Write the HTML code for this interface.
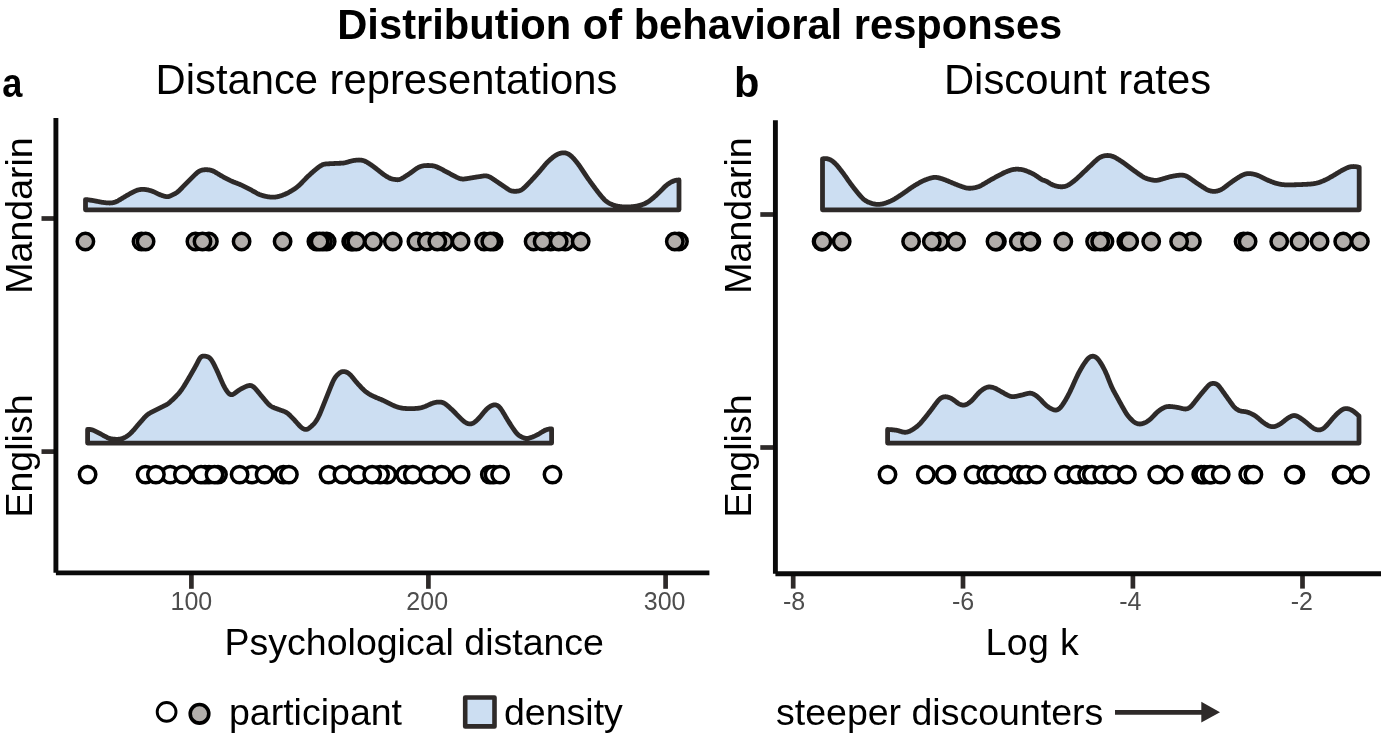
<!DOCTYPE html>
<html><head><meta charset="utf-8"><style>
html,body{margin:0;padding:0;background:#fff;width:1381px;height:737px;overflow:hidden}
svg{display:block;will-change:transform}
text{font-family:"Liberation Sans",sans-serif}
</style></head><body>
<svg width="1381" height="737" viewBox="0 0 1381 737">
<rect width="1381" height="737" fill="#fff"/>
<text x="699.8" y="38.8" font-family="Liberation Sans, sans-serif" font-size="41.7" font-weight="bold" text-anchor="middle" fill="#000">Distribution of behavioral responses</text>
<text transform="translate(2.2,97.4) scale(0.87,0.98)" font-family="Liberation Sans, sans-serif" font-size="41.6" font-weight="bold" fill="#000">a</text>
<text x="734.1" y="97.3" font-family="Liberation Sans, sans-serif" font-size="41.6" font-weight="bold" fill="#000">b</text>
<text x="386.5" y="94" font-family="Liberation Sans, sans-serif" font-size="41.75" text-anchor="middle" fill="#000">Distance representations</text>
<text x="1077.5" y="94" font-family="Liberation Sans, sans-serif" font-size="41.8" text-anchor="middle" fill="#000">Discount rates</text>
<!-- left panel axes -->
<line x1="41.5" y1="218.5" x2="55" y2="218.5" stroke="#2e2a29" stroke-width="4.7"/>
<line x1="41.5" y1="451.6" x2="55" y2="451.6" stroke="#2e2a29" stroke-width="4.7"/>
<line x1="191.4" y1="574" x2="191.4" y2="588.8" stroke="#2e2a29" stroke-width="4.7"/>
<line x1="428.4" y1="574" x2="428.4" y2="588.8" stroke="#2e2a29" stroke-width="4.7"/>
<line x1="665.6" y1="574" x2="665.6" y2="588.8" stroke="#2e2a29" stroke-width="4.7"/>
<text x="191.4" y="609.6" font-family="Liberation Sans, sans-serif" font-size="25" text-anchor="middle" fill="#4d4d4d">100</text>
<text x="427.2" y="609.6" font-family="Liberation Sans, sans-serif" font-size="25" text-anchor="middle" fill="#4d4d4d">200</text>
<text x="664.6" y="609.6" font-family="Liberation Sans, sans-serif" font-size="25" text-anchor="middle" fill="#4d4d4d">300</text>
<text x="414.3" y="655.2" font-family="Liberation Sans, sans-serif" font-size="37.5" text-anchor="middle" fill="#000">Psychological distance</text>
<text transform="translate(32,215.5) rotate(-90)" font-family="Liberation Sans, sans-serif" font-size="37.5" text-anchor="middle" fill="#000">Mandarin</text>
<text transform="translate(32,456) rotate(-90)" font-family="Liberation Sans, sans-serif" font-size="37.5" text-anchor="middle" fill="#000">English</text>
<!-- right panel axes -->
<line x1="760.3" y1="214.5" x2="774.5" y2="214.5" stroke="#2e2a29" stroke-width="4.7"/>
<line x1="760.3" y1="447.5" x2="774.5" y2="447.5" stroke="#2e2a29" stroke-width="4.7"/>
<line x1="793.2" y1="575.5" x2="793.2" y2="588.6" stroke="#2e2a29" stroke-width="4.7"/>
<line x1="963" y1="575.5" x2="963" y2="588.6" stroke="#2e2a29" stroke-width="4.7"/>
<line x1="1132.9" y1="575.5" x2="1132.9" y2="588.6" stroke="#2e2a29" stroke-width="4.7"/>
<line x1="1302.5" y1="575.5" x2="1302.5" y2="588.6" stroke="#2e2a29" stroke-width="4.7"/>
<text x="794" y="609.7" font-family="Liberation Sans, sans-serif" font-size="25" text-anchor="middle" fill="#4d4d4d">-8</text>
<text x="963" y="609.7" font-family="Liberation Sans, sans-serif" font-size="25" text-anchor="middle" fill="#4d4d4d">-6</text>
<text x="1130.4" y="609.7" font-family="Liberation Sans, sans-serif" font-size="25" text-anchor="middle" fill="#4d4d4d">-4</text>
<text x="1301.8" y="609.7" font-family="Liberation Sans, sans-serif" font-size="25" text-anchor="middle" fill="#4d4d4d">-2</text>
<text x="1032.3" y="655.2" font-family="Liberation Sans, sans-serif" font-size="37.5" letter-spacing="0.35" text-anchor="middle" fill="#000">Log k</text>
<text transform="translate(751,215.5) rotate(-90)" font-family="Liberation Sans, sans-serif" font-size="37.5" text-anchor="middle" fill="#000">Mandarin</text>
<text transform="translate(751,456) rotate(-90)" font-family="Liberation Sans, sans-serif" font-size="37.5" text-anchor="middle" fill="#000">English</text>
<!-- axes -->
<line x1="55.9" y1="118" x2="55.9" y2="572.85" stroke="#0a0a0a" stroke-width="4.9"/>
<line x1="55.9" y1="572.85" x2="709.4" y2="572.85" stroke="#0a0a0a" stroke-width="4.9"/>
<line x1="775.4" y1="120.2" x2="775.4" y2="573.8" stroke="#0a0a0a" stroke-width="4.9"/>
<line x1="775.4" y1="573.8" x2="1381" y2="573.8" stroke="#0a0a0a" stroke-width="4.9"/>
<!-- ridges -->
<path d="M85.50,209.80 L85.50,199.55 L86.00,199.58 L86.50,199.63 L87.00,199.69 L87.50,199.75 L88.00,199.82 L88.50,199.89 L89.00,199.96 L89.50,200.03 L90.00,200.10 L90.50,200.18 L91.00,200.25 L91.50,200.33 L92.00,200.41 L92.50,200.49 L93.00,200.57 L93.50,200.66 L94.00,200.74 L94.50,200.84 L95.00,200.93 L95.50,201.02 L96.00,201.12 L96.50,201.22 L97.00,201.32 L97.50,201.42 L98.00,201.52 L98.50,201.62 L99.00,201.72 L99.50,201.81 L100.00,201.91 L100.50,202.00 L101.00,202.09 L101.50,202.18 L102.00,202.26 L102.50,202.34 L103.00,202.42 L103.50,202.49 L104.00,202.55 L104.50,202.61 L105.00,202.67 L105.50,202.72 L106.00,202.77 L106.50,202.81 L107.00,202.85 L107.50,202.89 L108.00,202.92 L108.50,202.95 L109.00,202.97 L109.50,202.98 L110.00,202.98 L110.50,202.97 L111.00,202.94 L111.50,202.90 L112.00,202.84 L112.50,202.77 L113.00,202.67 L113.50,202.56 L114.00,202.43 L114.50,202.29 L115.00,202.12 L115.50,201.94 L116.00,201.74 L116.50,201.52 L117.00,201.29 L117.50,201.03 L118.00,200.77 L118.50,200.49 L119.00,200.20 L119.50,199.91 L120.00,199.62 L120.50,199.32 L121.00,199.01 L121.50,198.71 L122.00,198.40 L122.50,198.09 L123.00,197.78 L123.50,197.48 L124.00,197.17 L124.50,196.87 L125.00,196.57 L125.50,196.27 L126.00,195.98 L126.50,195.69 L127.00,195.40 L127.50,195.12 L128.00,194.83 L128.50,194.55 L129.00,194.27 L129.50,193.99 L130.00,193.71 L130.50,193.43 L131.00,193.16 L131.50,192.89 L132.00,192.62 L132.50,192.35 L133.00,192.09 L133.50,191.83 L134.00,191.57 L134.50,191.32 L135.00,191.08 L135.50,190.85 L136.00,190.64 L136.50,190.45 L137.00,190.28 L137.50,190.12 L138.00,189.98 L138.50,189.85 L139.00,189.75 L139.50,189.66 L140.00,189.58 L140.50,189.51 L141.00,189.47 L141.50,189.43 L142.00,189.41 L142.50,189.39 L143.00,189.39 L143.50,189.40 L144.00,189.43 L144.50,189.46 L145.00,189.50 L145.50,189.55 L146.00,189.61 L146.50,189.69 L147.00,189.77 L147.50,189.86 L148.00,189.96 L148.50,190.07 L149.00,190.20 L149.50,190.33 L150.00,190.46 L150.50,190.61 L151.00,190.77 L151.50,190.94 L152.00,191.11 L152.50,191.30 L153.00,191.49 L153.50,191.70 L154.00,191.91 L154.50,192.14 L155.00,192.37 L155.50,192.60 L156.00,192.84 L156.50,193.08 L157.00,193.32 L157.50,193.56 L158.00,193.80 L158.50,194.04 L159.00,194.27 L159.50,194.49 L160.00,194.70 L160.50,194.90 L161.00,195.10 L161.50,195.29 L162.00,195.47 L162.50,195.65 L163.00,195.81 L163.50,195.97 L164.00,196.11 L164.50,196.24 L165.00,196.36 L165.50,196.46 L166.00,196.54 L166.50,196.60 L167.00,196.64 L167.50,196.65 L168.00,196.62 L168.50,196.55 L169.00,196.43 L169.50,196.27 L170.00,196.07 L170.50,195.86 L171.00,195.63 L171.50,195.40 L172.00,195.17 L172.50,194.94 L173.00,194.70 L173.50,194.46 L174.00,194.21 L174.50,193.95 L175.00,193.68 L175.50,193.38 L176.00,193.07 L176.50,192.74 L177.00,192.38 L177.50,191.99 L178.00,191.57 L178.50,191.14 L179.00,190.67 L179.50,190.20 L180.00,189.71 L180.50,189.21 L181.00,188.71 L181.50,188.21 L182.00,187.70 L182.50,187.19 L183.00,186.68 L183.50,186.17 L184.00,185.66 L184.50,185.15 L185.00,184.64 L185.50,184.13 L186.00,183.62 L186.50,183.11 L187.00,182.61 L187.50,182.10 L188.00,181.60 L188.50,181.10 L189.00,180.60 L189.50,180.10 L190.00,179.60 L190.50,179.10 L191.00,178.60 L191.50,178.11 L192.00,177.61 L192.50,177.12 L193.00,176.62 L193.50,176.13 L194.00,175.64 L194.50,175.15 L195.00,174.66 L195.50,174.18 L196.00,173.70 L196.50,173.24 L197.00,172.80 L197.50,172.39 L198.00,172.01 L198.50,171.67 L199.00,171.35 L199.50,171.08 L200.00,170.83 L200.50,170.62 L201.00,170.43 L201.50,170.27 L202.00,170.13 L202.50,170.02 L203.00,169.93 L203.50,169.86 L204.00,169.80 L204.50,169.76 L205.00,169.73 L205.50,169.72 L206.00,169.72 L206.50,169.72 L207.00,169.74 L207.50,169.76 L208.00,169.80 L208.50,169.85 L209.00,169.91 L209.50,169.98 L210.00,170.07 L210.50,170.18 L211.00,170.31 L211.50,170.45 L212.00,170.61 L212.50,170.80 L213.00,171.01 L213.50,171.23 L214.00,171.48 L214.50,171.74 L215.00,172.02 L215.50,172.31 L216.00,172.60 L216.50,172.90 L217.00,173.20 L217.50,173.51 L218.00,173.81 L218.50,174.12 L219.00,174.42 L219.50,174.73 L220.00,175.03 L220.50,175.33 L221.00,175.62 L221.50,175.91 L222.00,176.20 L222.50,176.47 L223.00,176.75 L223.50,177.02 L224.00,177.28 L224.50,177.55 L225.00,177.82 L225.50,178.08 L226.00,178.34 L226.50,178.61 L227.00,178.87 L227.50,179.13 L228.00,179.38 L228.50,179.64 L229.00,179.89 L229.50,180.14 L230.00,180.38 L230.50,180.63 L231.00,180.86 L231.50,181.10 L232.00,181.32 L232.50,181.54 L233.00,181.75 L233.50,181.95 L234.00,182.15 L234.50,182.35 L235.00,182.54 L235.50,182.72 L236.00,182.91 L236.50,183.09 L237.00,183.28 L237.50,183.47 L238.00,183.66 L238.50,183.86 L239.00,184.06 L239.50,184.27 L240.00,184.49 L240.50,184.71 L241.00,184.94 L241.50,185.17 L242.00,185.41 L242.50,185.65 L243.00,185.89 L243.50,186.14 L244.00,186.38 L244.50,186.63 L245.00,186.88 L245.50,187.13 L246.00,187.38 L246.50,187.63 L247.00,187.88 L247.50,188.13 L248.00,188.39 L248.50,188.64 L249.00,188.90 L249.50,189.16 L250.00,189.42 L250.50,189.68 L251.00,189.95 L251.50,190.22 L252.00,190.50 L252.50,190.77 L253.00,191.05 L253.50,191.33 L254.00,191.62 L254.50,191.90 L255.00,192.17 L255.50,192.45 L256.00,192.73 L256.50,193.00 L257.00,193.26 L257.50,193.53 L258.00,193.78 L258.50,194.02 L259.00,194.26 L259.50,194.48 L260.00,194.68 L260.50,194.88 L261.00,195.06 L261.50,195.23 L262.00,195.39 L262.50,195.54 L263.00,195.68 L263.50,195.82 L264.00,195.94 L264.50,196.06 L265.00,196.18 L265.50,196.29 L266.00,196.39 L266.50,196.49 L267.00,196.59 L267.50,196.68 L268.00,196.77 L268.50,196.85 L269.00,196.93 L269.50,196.99 L270.00,197.05 L270.50,197.10 L271.00,197.14 L271.50,197.17 L272.00,197.18 L272.50,197.19 L273.00,197.19 L273.50,197.18 L274.00,197.16 L274.50,197.12 L275.00,197.08 L275.50,197.02 L276.00,196.95 L276.50,196.87 L277.00,196.78 L277.50,196.68 L278.00,196.57 L278.50,196.45 L279.00,196.33 L279.50,196.19 L280.00,196.05 L280.50,195.90 L281.00,195.74 L281.50,195.58 L282.00,195.40 L282.50,195.22 L283.00,195.03 L283.50,194.84 L284.00,194.64 L284.50,194.43 L285.00,194.21 L285.50,193.99 L286.00,193.76 L286.50,193.53 L287.00,193.29 L287.50,193.04 L288.00,192.78 L288.50,192.52 L289.00,192.25 L289.50,191.97 L290.00,191.69 L290.50,191.40 L291.00,191.11 L291.50,190.81 L292.00,190.51 L292.50,190.20 L293.00,189.89 L293.50,189.57 L294.00,189.24 L294.50,188.91 L295.00,188.56 L295.50,188.21 L296.00,187.84 L296.50,187.47 L297.00,187.08 L297.50,186.68 L298.00,186.26 L298.50,185.83 L299.00,185.39 L299.50,184.93 L300.00,184.46 L300.50,183.98 L301.00,183.48 L301.50,182.98 L302.00,182.47 L302.50,181.95 L303.00,181.43 L303.50,180.90 L304.00,180.38 L304.50,179.85 L305.00,179.33 L305.50,178.81 L306.00,178.30 L306.50,177.80 L307.00,177.30 L307.50,176.81 L308.00,176.33 L308.50,175.86 L309.00,175.39 L309.50,174.92 L310.00,174.46 L310.50,174.00 L311.00,173.55 L311.50,173.10 L312.00,172.65 L312.50,172.21 L313.00,171.77 L313.50,171.34 L314.00,170.91 L314.50,170.48 L315.00,170.05 L315.50,169.64 L316.00,169.22 L316.50,168.81 L317.00,168.41 L317.50,168.01 L318.00,167.62 L318.50,167.24 L319.00,166.87 L319.50,166.52 L320.00,166.18 L320.50,165.86 L321.00,165.56 L321.50,165.28 L322.00,165.03 L322.50,164.80 L323.00,164.60 L323.50,164.42 L324.00,164.28 L324.50,164.17 L325.00,164.08 L325.50,164.01 L326.00,163.96 L326.50,163.92 L327.00,163.89 L327.50,163.85 L328.00,163.82 L328.50,163.79 L329.00,163.76 L329.50,163.74 L330.00,163.71 L330.50,163.68 L331.00,163.66 L331.50,163.63 L332.00,163.60 L332.50,163.58 L333.00,163.55 L333.50,163.53 L334.00,163.51 L334.50,163.48 L335.00,163.46 L335.50,163.44 L336.00,163.42 L336.50,163.39 L337.00,163.37 L337.50,163.35 L338.00,163.33 L338.50,163.31 L339.00,163.29 L339.50,163.27 L340.00,163.25 L340.50,163.23 L341.00,163.20 L341.50,163.17 L342.00,163.14 L342.50,163.11 L343.00,163.07 L343.50,163.01 L344.00,162.94 L344.50,162.86 L345.00,162.76 L345.50,162.65 L346.00,162.52 L346.50,162.38 L347.00,162.24 L347.50,162.09 L348.00,161.94 L348.50,161.79 L349.00,161.63 L349.50,161.49 L350.00,161.34 L350.50,161.21 L351.00,161.08 L351.50,160.96 L352.00,160.85 L352.50,160.75 L353.00,160.66 L353.50,160.57 L354.00,160.49 L354.50,160.41 L355.00,160.34 L355.50,160.27 L356.00,160.21 L356.50,160.16 L357.00,160.12 L357.50,160.08 L358.00,160.05 L358.50,160.03 L359.00,160.02 L359.50,160.03 L360.00,160.04 L360.50,160.07 L361.00,160.13 L361.50,160.20 L362.00,160.29 L362.50,160.40 L363.00,160.53 L363.50,160.68 L364.00,160.85 L364.50,161.04 L365.00,161.25 L365.50,161.48 L366.00,161.72 L366.50,161.99 L367.00,162.27 L367.50,162.56 L368.00,162.87 L368.50,163.18 L369.00,163.50 L369.50,163.83 L370.00,164.16 L370.50,164.50 L371.00,164.84 L371.50,165.19 L372.00,165.54 L372.50,165.89 L373.00,166.25 L373.50,166.62 L374.00,166.98 L374.50,167.36 L375.00,167.74 L375.50,168.12 L376.00,168.51 L376.50,168.90 L377.00,169.29 L377.50,169.69 L378.00,170.08 L378.50,170.48 L379.00,170.88 L379.50,171.28 L380.00,171.68 L380.50,172.07 L381.00,172.46 L381.50,172.85 L382.00,173.23 L382.50,173.61 L383.00,173.98 L383.50,174.35 L384.00,174.71 L384.50,175.05 L385.00,175.39 L385.50,175.72 L386.00,176.05 L386.50,176.36 L387.00,176.66 L387.50,176.96 L388.00,177.24 L388.50,177.51 L389.00,177.77 L389.50,178.01 L390.00,178.24 L390.50,178.45 L391.00,178.63 L391.50,178.80 L392.00,178.94 L392.50,179.06 L393.00,179.17 L393.50,179.26 L394.00,179.35 L394.50,179.42 L395.00,179.49 L395.50,179.56 L396.00,179.62 L396.50,179.67 L397.00,179.71 L397.50,179.74 L398.00,179.73 L398.50,179.69 L399.00,179.61 L399.50,179.49 L400.00,179.32 L400.50,179.12 L401.00,178.89 L401.50,178.63 L402.00,178.37 L402.50,178.09 L403.00,177.80 L403.50,177.51 L404.00,177.20 L404.50,176.90 L405.00,176.58 L405.50,176.26 L406.00,175.94 L406.50,175.61 L407.00,175.29 L407.50,174.96 L408.00,174.63 L408.50,174.29 L409.00,173.96 L409.50,173.62 L410.00,173.27 L410.50,172.92 L411.00,172.56 L411.50,172.20 L412.00,171.83 L412.50,171.46 L413.00,171.09 L413.50,170.73 L414.00,170.36 L414.50,170.00 L415.00,169.64 L415.50,169.29 L416.00,168.95 L416.50,168.62 L417.00,168.30 L417.50,168.00 L418.00,167.71 L418.50,167.44 L419.00,167.19 L419.50,166.96 L420.00,166.75 L420.50,166.57 L421.00,166.40 L421.50,166.25 L422.00,166.11 L422.50,166.00 L423.00,165.90 L423.50,165.81 L424.00,165.74 L424.50,165.67 L425.00,165.62 L425.50,165.59 L426.00,165.55 L426.50,165.53 L427.00,165.52 L427.50,165.51 L428.00,165.51 L428.50,165.51 L429.00,165.52 L429.50,165.53 L430.00,165.54 L430.50,165.57 L431.00,165.60 L431.50,165.64 L432.00,165.69 L432.50,165.75 L433.00,165.82 L433.50,165.91 L434.00,166.02 L434.50,166.14 L435.00,166.28 L435.50,166.44 L436.00,166.62 L436.50,166.81 L437.00,167.03 L437.50,167.25 L438.00,167.49 L438.50,167.73 L439.00,167.97 L439.50,168.22 L440.00,168.47 L440.50,168.72 L441.00,168.97 L441.50,169.22 L442.00,169.47 L442.50,169.73 L443.00,169.99 L443.50,170.25 L444.00,170.51 L444.50,170.77 L445.00,171.03 L445.50,171.29 L446.00,171.56 L446.50,171.82 L447.00,172.09 L447.50,172.36 L448.00,172.64 L448.50,172.91 L449.00,173.19 L449.50,173.46 L450.00,173.74 L450.50,174.02 L451.00,174.29 L451.50,174.57 L452.00,174.84 L452.50,175.12 L453.00,175.39 L453.50,175.66 L454.00,175.92 L454.50,176.19 L455.00,176.45 L455.50,176.70 L456.00,176.95 L456.50,177.20 L457.00,177.43 L457.50,177.65 L458.00,177.87 L458.50,178.07 L459.00,178.25 L459.50,178.42 L460.00,178.58 L460.50,178.71 L461.00,178.82 L461.50,178.92 L462.00,178.98 L462.50,179.03 L463.00,179.04 L463.50,179.04 L464.00,179.01 L464.50,178.96 L465.00,178.89 L465.50,178.82 L466.00,178.75 L466.50,178.67 L467.00,178.59 L467.50,178.51 L468.00,178.43 L468.50,178.35 L469.00,178.27 L469.50,178.19 L470.00,178.11 L470.50,178.03 L471.00,177.95 L471.50,177.87 L472.00,177.79 L472.50,177.71 L473.00,177.63 L473.50,177.55 L474.00,177.47 L474.50,177.39 L475.00,177.31 L475.50,177.23 L476.00,177.15 L476.50,177.07 L477.00,176.99 L477.50,176.91 L478.00,176.83 L478.50,176.75 L479.00,176.67 L479.50,176.59 L480.00,176.51 L480.50,176.43 L481.00,176.35 L481.50,176.27 L482.00,176.19 L482.50,176.11 L483.00,176.03 L483.50,175.97 L484.00,175.91 L484.50,175.87 L485.00,175.85 L485.50,175.86 L486.00,175.89 L486.50,175.96 L487.00,176.05 L487.50,176.16 L488.00,176.31 L488.50,176.48 L489.00,176.67 L489.50,176.89 L490.00,177.14 L490.50,177.40 L491.00,177.69 L491.50,178.00 L492.00,178.32 L492.50,178.65 L493.00,178.98 L493.50,179.32 L494.00,179.66 L494.50,180.00 L495.00,180.34 L495.50,180.68 L496.00,181.02 L496.50,181.36 L497.00,181.70 L497.50,182.04 L498.00,182.39 L498.50,182.73 L499.00,183.07 L499.50,183.41 L500.00,183.75 L500.50,184.09 L501.00,184.43 L501.50,184.77 L502.00,185.10 L502.50,185.44 L503.00,185.78 L503.50,186.12 L504.00,186.45 L504.50,186.79 L505.00,187.13 L505.50,187.46 L506.00,187.80 L506.50,188.13 L507.00,188.47 L507.50,188.80 L508.00,189.13 L508.50,189.45 L509.00,189.77 L509.50,190.06 L510.00,190.33 L510.50,190.56 L511.00,190.75 L511.50,190.90 L512.00,191.03 L512.50,191.12 L513.00,191.18 L513.50,191.23 L514.00,191.26 L514.50,191.28 L515.00,191.29 L515.50,191.29 L516.00,191.27 L516.50,191.25 L517.00,191.21 L517.50,191.15 L518.00,191.07 L518.50,190.97 L519.00,190.85 L519.50,190.70 L520.00,190.52 L520.50,190.31 L521.00,190.07 L521.50,189.80 L522.00,189.49 L522.50,189.14 L523.00,188.75 L523.50,188.34 L524.00,187.89 L524.50,187.43 L525.00,186.96 L525.50,186.47 L526.00,185.98 L526.50,185.49 L527.00,184.98 L527.50,184.48 L528.00,183.96 L528.50,183.45 L529.00,182.93 L529.50,182.40 L530.00,181.87 L530.50,181.33 L531.00,180.80 L531.50,180.26 L532.00,179.72 L532.50,179.17 L533.00,178.63 L533.50,178.09 L534.00,177.54 L534.50,177.00 L535.00,176.45 L535.50,175.91 L536.00,175.36 L536.50,174.81 L537.00,174.26 L537.50,173.71 L538.00,173.15 L538.50,172.59 L539.00,172.02 L539.50,171.44 L540.00,170.86 L540.50,170.27 L541.00,169.68 L541.50,169.08 L542.00,168.48 L542.50,167.87 L543.00,167.27 L543.50,166.66 L544.00,166.06 L544.50,165.47 L545.00,164.88 L545.50,164.30 L546.00,163.73 L546.50,163.18 L547.00,162.64 L547.50,162.12 L548.00,161.62 L548.50,161.13 L549.00,160.66 L549.50,160.20 L550.00,159.75 L550.50,159.31 L551.00,158.89 L551.50,158.47 L552.00,158.05 L552.50,157.64 L553.00,157.24 L553.50,156.84 L554.00,156.46 L554.50,156.10 L555.00,155.75 L555.50,155.42 L556.00,155.11 L556.50,154.82 L557.00,154.55 L557.50,154.30 L558.00,154.07 L558.50,153.86 L559.00,153.66 L559.50,153.49 L560.00,153.33 L560.50,153.19 L561.00,153.08 L561.50,152.98 L562.00,152.89 L562.50,152.83 L563.00,152.79 L563.50,152.78 L564.00,152.79 L564.50,152.83 L565.00,152.89 L565.50,152.98 L566.00,153.10 L566.50,153.25 L567.00,153.42 L567.50,153.63 L568.00,153.86 L568.50,154.13 L569.00,154.42 L569.50,154.75 L570.00,155.10 L570.50,155.49 L571.00,155.91 L571.50,156.36 L572.00,156.83 L572.50,157.34 L573.00,157.86 L573.50,158.41 L574.00,158.97 L574.50,159.54 L575.00,160.12 L575.50,160.71 L576.00,161.31 L576.50,161.93 L577.00,162.56 L577.50,163.21 L578.00,163.86 L578.50,164.53 L579.00,165.22 L579.50,165.92 L580.00,166.64 L580.50,167.36 L581.00,168.10 L581.50,168.85 L582.00,169.60 L582.50,170.36 L583.00,171.12 L583.50,171.88 L584.00,172.65 L584.50,173.41 L585.00,174.17 L585.50,174.92 L586.00,175.67 L586.50,176.40 L587.00,177.13 L587.50,177.86 L588.00,178.57 L588.50,179.27 L589.00,179.97 L589.50,180.67 L590.00,181.36 L590.50,182.05 L591.00,182.74 L591.50,183.42 L592.00,184.10 L592.50,184.78 L593.00,185.46 L593.50,186.14 L594.00,186.81 L594.50,187.49 L595.00,188.16 L595.50,188.83 L596.00,189.49 L596.50,190.15 L597.00,190.81 L597.50,191.46 L598.00,192.11 L598.50,192.74 L599.00,193.38 L599.50,194.00 L600.00,194.62 L600.50,195.23 L601.00,195.84 L601.50,196.43 L602.00,197.02 L602.50,197.60 L603.00,198.16 L603.50,198.70 L604.00,199.22 L604.50,199.72 L605.00,200.19 L605.50,200.63 L606.00,201.04 L606.50,201.44 L607.00,201.80 L607.50,202.15 L608.00,202.47 L608.50,202.78 L609.00,203.07 L609.50,203.34 L610.00,203.59 L610.50,203.83 L611.00,204.06 L611.50,204.28 L612.00,204.49 L612.50,204.69 L613.00,204.88 L613.50,205.07 L614.00,205.24 L614.50,205.41 L615.00,205.56 L615.50,205.70 L616.00,205.83 L616.50,205.96 L617.00,206.06 L617.50,206.16 L618.00,206.25 L618.50,206.33 L619.00,206.41 L619.50,206.48 L620.00,206.54 L620.50,206.60 L621.00,206.66 L621.50,206.72 L622.00,206.77 L622.50,206.81 L623.00,206.85 L623.50,206.89 L624.00,206.92 L624.50,206.95 L625.00,206.97 L625.50,206.98 L626.00,206.99 L626.50,206.99 L627.00,206.99 L627.50,206.98 L628.00,206.96 L628.50,206.94 L629.00,206.92 L629.50,206.89 L630.00,206.86 L630.50,206.82 L631.00,206.78 L631.50,206.74 L632.00,206.69 L632.50,206.64 L633.00,206.58 L633.50,206.53 L634.00,206.47 L634.50,206.40 L635.00,206.33 L635.50,206.26 L636.00,206.18 L636.50,206.10 L637.00,206.01 L637.50,205.91 L638.00,205.80 L638.50,205.69 L639.00,205.57 L639.50,205.44 L640.00,205.31 L640.50,205.17 L641.00,205.02 L641.50,204.86 L642.00,204.70 L642.50,204.52 L643.00,204.34 L643.50,204.15 L644.00,203.94 L644.50,203.73 L645.00,203.50 L645.50,203.26 L646.00,203.00 L646.50,202.73 L647.00,202.45 L647.50,202.15 L648.00,201.84 L648.50,201.51 L649.00,201.18 L649.50,200.82 L650.00,200.46 L650.50,200.08 L651.00,199.69 L651.50,199.29 L652.00,198.88 L652.50,198.47 L653.00,198.05 L653.50,197.62 L654.00,197.19 L654.50,196.76 L655.00,196.31 L655.50,195.87 L656.00,195.42 L656.50,194.97 L657.00,194.51 L657.50,194.05 L658.00,193.58 L658.50,193.10 L659.00,192.62 L659.50,192.13 L660.00,191.63 L660.50,191.13 L661.00,190.62 L661.50,190.10 L662.00,189.59 L662.50,189.07 L663.00,188.56 L663.50,188.05 L664.00,187.55 L664.50,187.06 L665.00,186.58 L665.50,186.12 L666.00,185.67 L666.50,185.24 L667.00,184.83 L667.50,184.44 L668.00,184.07 L668.50,183.72 L669.00,183.39 L669.50,183.07 L670.00,182.77 L670.50,182.49 L671.00,182.22 L671.50,181.96 L672.00,181.71 L672.50,181.48 L673.00,181.26 L673.50,181.05 L674.00,180.86 L674.50,180.69 L675.00,180.54 L675.50,180.40 L676.00,180.29 L676.50,180.20 L677.00,180.13 L677.50,180.08 L678.00,180.04 L678.50,180.02 L679.00,180.01 L679.00,209.80 Z" fill="#ccdef2" stroke="#2e2a29" stroke-width="4.8" stroke-linejoin="round"/>
<path d="M87.60,443.10 L87.60,429.48 L88.10,429.47 L88.60,429.47 L89.10,429.47 L89.60,429.48 L90.10,429.51 L90.60,429.56 L91.10,429.63 L91.60,429.73 L92.10,429.86 L92.60,430.02 L93.10,430.20 L93.60,430.41 L94.10,430.63 L94.60,430.86 L95.10,431.10 L95.60,431.35 L96.10,431.59 L96.60,431.84 L97.10,432.09 L97.60,432.35 L98.10,432.61 L98.60,432.87 L99.10,433.13 L99.60,433.39 L100.10,433.65 L100.60,433.92 L101.10,434.19 L101.60,434.47 L102.10,434.74 L102.60,435.02 L103.10,435.30 L103.60,435.58 L104.10,435.87 L104.60,436.14 L105.10,436.42 L105.60,436.69 L106.10,436.96 L106.60,437.22 L107.10,437.47 L107.60,437.70 L108.10,437.92 L108.60,438.11 L109.10,438.28 L109.60,438.44 L110.10,438.57 L110.60,438.69 L111.10,438.79 L111.60,438.88 L112.10,438.96 L112.60,439.03 L113.10,439.09 L113.60,439.14 L114.10,439.19 L114.60,439.23 L115.10,439.26 L115.60,439.29 L116.10,439.31 L116.60,439.33 L117.10,439.33 L117.60,439.32 L118.10,439.29 L118.60,439.25 L119.10,439.20 L119.60,439.13 L120.10,439.05 L120.60,438.95 L121.10,438.83 L121.60,438.70 L122.10,438.55 L122.60,438.38 L123.10,438.20 L123.60,437.99 L124.10,437.77 L124.60,437.54 L125.10,437.28 L125.60,437.01 L126.10,436.71 L126.60,436.41 L127.10,436.08 L127.60,435.73 L128.10,435.37 L128.60,434.98 L129.10,434.58 L129.60,434.16 L130.10,433.72 L130.60,433.27 L131.10,432.79 L131.60,432.29 L132.10,431.78 L132.60,431.24 L133.10,430.70 L133.60,430.14 L134.10,429.56 L134.60,428.98 L135.10,428.39 L135.60,427.80 L136.10,427.20 L136.60,426.59 L137.10,425.99 L137.60,425.39 L138.10,424.80 L138.60,424.21 L139.10,423.62 L139.60,423.05 L140.10,422.48 L140.60,421.91 L141.10,421.35 L141.60,420.79 L142.10,420.22 L142.60,419.66 L143.10,419.09 L143.60,418.52 L144.10,417.96 L144.60,417.42 L145.10,416.88 L145.60,416.37 L146.10,415.87 L146.60,415.41 L147.10,414.97 L147.60,414.56 L148.10,414.19 L148.60,413.86 L149.10,413.55 L149.60,413.26 L150.10,412.99 L150.60,412.73 L151.10,412.47 L151.60,412.22 L152.10,411.96 L152.60,411.71 L153.10,411.46 L153.60,411.21 L154.10,410.95 L154.60,410.70 L155.10,410.45 L155.60,410.20 L156.10,409.95 L156.60,409.70 L157.10,409.45 L157.60,409.20 L158.10,408.95 L158.60,408.70 L159.10,408.45 L159.60,408.20 L160.10,407.95 L160.60,407.70 L161.10,407.45 L161.60,407.20 L162.10,406.95 L162.60,406.70 L163.10,406.46 L163.60,406.20 L164.10,405.95 L164.60,405.70 L165.10,405.44 L165.60,405.18 L166.10,404.90 L166.60,404.61 L167.10,404.29 L167.60,403.96 L168.10,403.60 L168.60,403.22 L169.10,402.82 L169.60,402.40 L170.10,401.97 L170.60,401.52 L171.10,401.07 L171.60,400.60 L172.10,400.13 L172.60,399.65 L173.10,399.17 L173.60,398.68 L174.10,398.20 L174.60,397.71 L175.10,397.22 L175.60,396.72 L176.10,396.22 L176.60,395.70 L177.10,395.18 L177.60,394.65 L178.10,394.10 L178.60,393.54 L179.10,392.95 L179.60,392.35 L180.10,391.73 L180.60,391.08 L181.10,390.41 L181.60,389.72 L182.10,389.00 L182.60,388.26 L183.10,387.50 L183.60,386.72 L184.10,385.93 L184.60,385.12 L185.10,384.31 L185.60,383.49 L186.10,382.66 L186.60,381.82 L187.10,380.98 L187.60,380.13 L188.10,379.28 L188.60,378.43 L189.10,377.57 L189.60,376.71 L190.10,375.85 L190.60,374.99 L191.10,374.12 L191.60,373.25 L192.10,372.38 L192.60,371.50 L193.10,370.62 L193.60,369.73 L194.10,368.84 L194.60,367.95 L195.10,367.05 L195.60,366.15 L196.10,365.24 L196.60,364.32 L197.10,363.39 L197.60,362.43 L198.10,361.44 L198.60,360.46 L199.10,359.53 L199.60,358.69 L200.10,357.97 L200.60,357.39 L201.10,356.93 L201.60,356.59 L202.10,356.33 L202.60,356.16 L203.10,356.07 L203.60,356.03 L204.10,356.03 L204.60,356.08 L205.10,356.15 L205.60,356.24 L206.10,356.34 L206.60,356.46 L207.10,356.60 L207.60,356.77 L208.10,356.97 L208.60,357.22 L209.10,357.53 L209.60,357.90 L210.10,358.36 L210.60,358.90 L211.10,359.53 L211.60,360.24 L212.10,361.03 L212.60,361.88 L213.10,362.77 L213.60,363.70 L214.10,364.66 L214.60,365.65 L215.10,366.66 L215.60,367.69 L216.10,368.73 L216.60,369.80 L217.10,370.88 L217.60,371.98 L218.10,373.10 L218.60,374.23 L219.10,375.38 L219.60,376.54 L220.10,377.70 L220.60,378.86 L221.10,380.02 L221.60,381.16 L222.10,382.28 L222.60,383.38 L223.10,384.45 L223.60,385.47 L224.10,386.45 L224.60,387.39 L225.10,388.28 L225.60,389.12 L226.10,389.92 L226.60,390.67 L227.10,391.37 L227.60,392.03 L228.10,392.63 L228.60,393.17 L229.10,393.65 L229.60,394.04 L230.10,394.36 L230.60,394.57 L231.10,394.70 L231.60,394.72 L232.10,394.65 L232.60,394.50 L233.10,394.28 L233.60,394.00 L234.10,393.69 L234.60,393.35 L235.10,393.00 L235.60,392.63 L236.10,392.25 L236.60,391.88 L237.10,391.50 L237.60,391.13 L238.10,390.77 L238.60,390.43 L239.10,390.10 L239.60,389.79 L240.10,389.49 L240.60,389.19 L241.10,388.91 L241.60,388.63 L242.10,388.36 L242.60,388.09 L243.10,387.82 L243.60,387.57 L244.10,387.32 L244.60,387.08 L245.10,386.85 L245.60,386.63 L246.10,386.42 L246.60,386.22 L247.10,386.04 L247.60,385.88 L248.10,385.73 L248.60,385.61 L249.10,385.52 L249.60,385.48 L250.10,385.48 L250.60,385.53 L251.10,385.63 L251.60,385.79 L252.10,386.00 L252.60,386.27 L253.10,386.59 L253.60,386.96 L254.10,387.38 L254.60,387.85 L255.10,388.37 L255.60,388.91 L256.10,389.48 L256.60,390.06 L257.10,390.66 L257.60,391.26 L258.10,391.87 L258.60,392.48 L259.10,393.09 L259.60,393.71 L260.10,394.31 L260.60,394.92 L261.10,395.52 L261.60,396.11 L262.10,396.70 L262.60,397.30 L263.10,397.89 L263.60,398.49 L264.10,399.10 L264.60,399.71 L265.10,400.31 L265.60,400.91 L266.10,401.51 L266.60,402.09 L267.10,402.65 L267.60,403.20 L268.10,403.72 L268.60,404.21 L269.10,404.68 L269.60,405.11 L270.10,405.51 L270.60,405.88 L271.10,406.21 L271.60,406.52 L272.10,406.80 L272.60,407.06 L273.10,407.31 L273.60,407.53 L274.10,407.75 L274.60,407.95 L275.10,408.14 L275.60,408.33 L276.10,408.51 L276.60,408.69 L277.10,408.87 L277.60,409.05 L278.10,409.24 L278.60,409.42 L279.10,409.61 L279.60,409.79 L280.10,409.97 L280.60,410.15 L281.10,410.32 L281.60,410.49 L282.10,410.66 L282.60,410.83 L283.10,411.00 L283.60,411.19 L284.10,411.38 L284.60,411.59 L285.10,411.81 L285.60,412.06 L286.10,412.33 L286.60,412.63 L287.10,412.97 L287.60,413.34 L288.10,413.74 L288.60,414.17 L289.10,414.62 L289.60,415.09 L290.10,415.58 L290.60,416.08 L291.10,416.58 L291.60,417.09 L292.10,417.60 L292.60,418.11 L293.10,418.62 L293.60,419.14 L294.10,419.68 L294.60,420.22 L295.10,420.77 L295.60,421.34 L296.10,421.90 L296.60,422.47 L297.10,423.04 L297.60,423.61 L298.10,424.16 L298.60,424.71 L299.10,425.24 L299.60,425.76 L300.10,426.25 L300.60,426.73 L301.10,427.17 L301.60,427.59 L302.10,427.98 L302.60,428.33 L303.10,428.64 L303.60,428.90 L304.10,429.12 L304.60,429.29 L305.10,429.41 L305.60,429.47 L306.10,429.47 L306.60,429.40 L307.10,429.26 L307.60,429.05 L308.10,428.79 L308.60,428.47 L309.10,428.10 L309.60,427.71 L310.10,427.31 L310.60,426.89 L311.10,426.47 L311.60,426.03 L312.10,425.59 L312.60,425.13 L313.10,424.64 L313.60,424.13 L314.10,423.58 L314.60,423.00 L315.10,422.37 L315.60,421.69 L316.10,420.96 L316.60,420.18 L317.10,419.35 L317.60,418.46 L318.10,417.52 L318.60,416.52 L319.10,415.48 L319.60,414.40 L320.10,413.27 L320.60,412.10 L321.10,410.90 L321.60,409.68 L322.10,408.44 L322.60,407.20 L323.10,405.95 L323.60,404.70 L324.10,403.45 L324.60,402.20 L325.10,400.95 L325.60,399.70 L326.10,398.45 L326.60,397.20 L327.10,395.95 L327.60,394.70 L328.10,393.45 L328.60,392.20 L329.10,390.95 L329.60,389.70 L330.10,388.45 L330.60,387.20 L331.10,385.96 L331.60,384.73 L332.10,383.52 L332.60,382.36 L333.10,381.26 L333.60,380.24 L334.10,379.30 L334.60,378.45 L335.10,377.67 L335.60,376.97 L336.10,376.32 L336.60,375.73 L337.10,375.17 L337.60,374.65 L338.10,374.17 L338.60,373.72 L339.10,373.30 L339.60,372.92 L340.10,372.58 L340.60,372.29 L341.10,372.04 L341.60,371.84 L342.10,371.69 L342.60,371.59 L343.10,371.53 L343.60,371.53 L344.10,371.56 L344.60,371.64 L345.10,371.75 L345.60,371.88 L346.10,372.05 L346.60,372.25 L347.10,372.48 L347.60,372.74 L348.10,373.04 L348.60,373.38 L349.10,373.77 L349.60,374.20 L350.10,374.67 L350.60,375.18 L351.10,375.72 L351.60,376.29 L352.10,376.88 L352.60,377.48 L353.10,378.10 L353.60,378.71 L354.10,379.34 L354.60,379.96 L355.10,380.57 L355.60,381.18 L356.10,381.78 L356.60,382.36 L357.10,382.93 L357.60,383.49 L358.10,384.05 L358.60,384.59 L359.10,385.14 L359.60,385.68 L360.10,386.22 L360.60,386.75 L361.10,387.28 L361.60,387.80 L362.10,388.32 L362.60,388.82 L363.10,389.31 L363.60,389.78 L364.10,390.25 L364.60,390.69 L365.10,391.12 L365.60,391.53 L366.10,391.92 L366.60,392.30 L367.10,392.66 L367.60,393.01 L368.10,393.34 L368.60,393.66 L369.10,393.98 L369.60,394.28 L370.10,394.57 L370.60,394.85 L371.10,395.12 L371.60,395.39 L372.10,395.64 L372.60,395.89 L373.10,396.13 L373.60,396.37 L374.10,396.60 L374.60,396.82 L375.10,397.04 L375.60,397.26 L376.10,397.47 L376.60,397.68 L377.10,397.88 L377.60,398.09 L378.10,398.29 L378.60,398.49 L379.10,398.70 L379.60,398.90 L380.10,399.11 L380.60,399.32 L381.10,399.54 L381.60,399.76 L382.10,399.98 L382.60,400.21 L383.10,400.45 L383.60,400.69 L384.10,400.93 L384.60,401.18 L385.10,401.43 L385.60,401.68 L386.10,401.93 L386.60,402.19 L387.10,402.45 L387.60,402.70 L388.10,402.96 L388.60,403.21 L389.10,403.46 L389.60,403.71 L390.10,403.96 L390.60,404.20 L391.10,404.44 L391.60,404.67 L392.10,404.90 L392.60,405.13 L393.10,405.35 L393.60,405.56 L394.10,405.77 L394.60,405.98 L395.10,406.18 L395.60,406.37 L396.10,406.55 L396.60,406.73 L397.10,406.90 L397.60,407.06 L398.10,407.22 L398.60,407.37 L399.10,407.50 L399.60,407.63 L400.10,407.75 L400.60,407.86 L401.10,407.96 L401.60,408.05 L402.10,408.13 L402.60,408.20 L403.10,408.27 L403.60,408.32 L404.10,408.37 L404.60,408.42 L405.10,408.46 L405.60,408.49 L406.10,408.51 L406.60,408.54 L407.10,408.55 L407.60,408.57 L408.10,408.58 L408.60,408.59 L409.10,408.59 L409.60,408.60 L410.10,408.60 L410.60,408.60 L411.10,408.60 L411.60,408.59 L412.10,408.59 L412.60,408.58 L413.10,408.57 L413.60,408.56 L414.10,408.55 L414.60,408.53 L415.10,408.50 L415.60,408.47 L416.10,408.44 L416.60,408.40 L417.10,408.36 L417.60,408.31 L418.10,408.25 L418.60,408.18 L419.10,408.11 L419.60,408.03 L420.10,407.94 L420.60,407.83 L421.10,407.72 L421.60,407.60 L422.10,407.46 L422.60,407.31 L423.10,407.16 L423.60,406.99 L424.10,406.82 L424.60,406.63 L425.10,406.45 L425.60,406.25 L426.10,406.04 L426.60,405.83 L427.10,405.61 L427.60,405.38 L428.10,405.15 L428.60,404.92 L429.10,404.69 L429.60,404.46 L430.10,404.23 L430.60,404.01 L431.10,403.79 L431.60,403.58 L432.10,403.39 L432.60,403.20 L433.10,403.03 L433.60,402.88 L434.10,402.74 L434.60,402.61 L435.10,402.49 L435.60,402.39 L436.10,402.30 L436.60,402.23 L437.10,402.16 L437.60,402.11 L438.10,402.07 L438.60,402.04 L439.10,402.03 L439.60,402.04 L440.10,402.06 L440.60,402.11 L441.10,402.18 L441.60,402.28 L442.10,402.40 L442.60,402.56 L443.10,402.74 L443.60,402.96 L444.10,403.21 L444.60,403.49 L445.10,403.81 L445.60,404.15 L446.10,404.52 L446.60,404.92 L447.10,405.33 L447.60,405.75 L448.10,406.18 L448.60,406.62 L449.10,407.06 L449.60,407.51 L450.10,407.97 L450.60,408.43 L451.10,408.90 L451.60,409.37 L452.10,409.84 L452.60,410.32 L453.10,410.81 L453.60,411.30 L454.10,411.79 L454.60,412.29 L455.10,412.79 L455.60,413.30 L456.10,413.81 L456.60,414.32 L457.10,414.84 L457.60,415.35 L458.10,415.87 L458.60,416.38 L459.10,416.89 L459.60,417.40 L460.10,417.90 L460.60,418.40 L461.10,418.88 L461.60,419.36 L462.10,419.82 L462.60,420.27 L463.10,420.69 L463.60,421.10 L464.10,421.48 L464.60,421.84 L465.10,422.18 L465.60,422.49 L466.10,422.77 L466.60,423.03 L467.10,423.25 L467.60,423.45 L468.10,423.62 L468.60,423.75 L469.10,423.85 L469.60,423.91 L470.10,423.92 L470.60,423.89 L471.10,423.82 L471.60,423.70 L472.10,423.53 L472.60,423.32 L473.10,423.07 L473.60,422.79 L474.10,422.47 L474.60,422.12 L475.10,421.75 L475.60,421.35 L476.10,420.93 L476.60,420.48 L477.10,420.03 L477.60,419.55 L478.10,419.06 L478.60,418.55 L479.10,418.02 L479.60,417.46 L480.10,416.89 L480.60,416.30 L481.10,415.69 L481.60,415.08 L482.10,414.46 L482.60,413.83 L483.10,413.21 L483.60,412.60 L484.10,411.99 L484.60,411.40 L485.10,410.83 L485.60,410.28 L486.10,409.76 L486.60,409.25 L487.10,408.78 L487.60,408.33 L488.10,407.90 L488.60,407.50 L489.10,407.12 L489.60,406.77 L490.10,406.45 L490.60,406.15 L491.10,405.88 L491.60,405.64 L492.10,405.43 L492.60,405.24 L493.10,405.09 L493.60,404.97 L494.10,404.89 L494.60,404.85 L495.10,404.85 L495.60,404.91 L496.10,405.01 L496.60,405.17 L497.10,405.38 L497.60,405.65 L498.10,405.98 L498.60,406.37 L499.10,406.82 L499.60,407.33 L500.10,407.91 L500.60,408.55 L501.10,409.24 L501.60,409.98 L502.10,410.76 L502.60,411.56 L503.10,412.38 L503.60,413.21 L504.10,414.05 L504.60,414.90 L505.10,415.75 L505.60,416.60 L506.10,417.45 L506.60,418.29 L507.10,419.12 L507.60,419.95 L508.10,420.76 L508.60,421.56 L509.10,422.36 L509.60,423.14 L510.10,423.92 L510.60,424.70 L511.10,425.47 L511.60,426.23 L512.10,426.99 L512.60,427.74 L513.10,428.48 L513.60,429.21 L514.10,429.93 L514.60,430.63 L515.10,431.32 L515.60,431.97 L516.10,432.60 L516.60,433.19 L517.10,433.74 L517.60,434.24 L518.10,434.70 L518.60,435.12 L519.10,435.50 L519.60,435.85 L520.10,436.17 L520.60,436.45 L521.10,436.72 L521.60,436.96 L522.10,437.19 L522.60,437.40 L523.10,437.59 L523.60,437.77 L524.10,437.93 L524.60,438.07 L525.10,438.19 L525.60,438.29 L526.10,438.36 L526.60,438.39 L527.10,438.40 L527.60,438.37 L528.10,438.30 L528.60,438.21 L529.10,438.09 L529.60,437.96 L530.10,437.81 L530.60,437.65 L531.10,437.49 L531.60,437.32 L532.10,437.14 L532.60,436.95 L533.10,436.75 L533.60,436.55 L534.10,436.34 L534.60,436.12 L535.10,435.90 L535.60,435.67 L536.10,435.43 L536.60,435.18 L537.10,434.92 L537.60,434.65 L538.10,434.37 L538.60,434.08 L539.10,433.79 L539.60,433.48 L540.10,433.17 L540.60,432.85 L541.10,432.54 L541.60,432.23 L542.10,431.92 L542.60,431.62 L543.10,431.33 L543.60,431.04 L544.10,430.77 L544.60,430.52 L545.10,430.28 L545.60,430.07 L546.10,429.87 L546.60,429.69 L547.10,429.53 L547.60,429.39 L548.10,429.26 L548.60,429.16 L549.10,429.07 L549.60,428.99 L550.10,428.93 L550.60,428.88 L551.10,428.85 L551.60,428.83 L551.60,443.10 Z" fill="#ccdef2" stroke="#2e2a29" stroke-width="4.8" stroke-linejoin="round"/>
<path d="M822.50,209.80 L822.50,158.89 L823.00,158.82 L823.50,158.74 L824.00,158.66 L824.50,158.60 L825.00,158.57 L825.50,158.57 L826.00,158.59 L826.50,158.65 L827.00,158.72 L827.50,158.82 L828.00,158.94 L828.50,159.09 L829.00,159.25 L829.50,159.44 L830.00,159.66 L830.50,159.90 L831.00,160.17 L831.50,160.48 L832.00,160.81 L832.50,161.18 L833.00,161.57 L833.50,161.98 L834.00,162.42 L834.50,162.88 L835.00,163.35 L835.50,163.85 L836.00,164.37 L836.50,164.91 L837.00,165.47 L837.50,166.05 L838.00,166.65 L838.50,167.26 L839.00,167.87 L839.50,168.50 L840.00,169.13 L840.50,169.76 L841.00,170.40 L841.50,171.05 L842.00,171.70 L842.50,172.36 L843.00,173.02 L843.50,173.70 L844.00,174.38 L844.50,175.07 L845.00,175.77 L845.50,176.48 L846.00,177.19 L846.50,177.91 L847.00,178.63 L847.50,179.34 L848.00,180.06 L848.50,180.77 L849.00,181.48 L849.50,182.18 L850.00,182.87 L850.50,183.55 L851.00,184.23 L851.50,184.90 L852.00,185.56 L852.50,186.21 L853.00,186.86 L853.50,187.51 L854.00,188.15 L854.50,188.79 L855.00,189.42 L855.50,190.06 L856.00,190.69 L856.50,191.32 L857.00,191.94 L857.50,192.55 L858.00,193.16 L858.50,193.76 L859.00,194.35 L859.50,194.93 L860.00,195.50 L860.50,196.06 L861.00,196.60 L861.50,197.14 L862.00,197.65 L862.50,198.16 L863.00,198.63 L863.50,199.09 L864.00,199.51 L864.50,199.91 L865.00,200.27 L865.50,200.62 L866.00,200.93 L866.50,201.22 L867.00,201.49 L867.50,201.75 L868.00,201.98 L868.50,202.20 L869.00,202.41 L869.50,202.61 L870.00,202.79 L870.50,202.97 L871.00,203.14 L871.50,203.30 L872.00,203.45 L872.50,203.60 L873.00,203.73 L873.50,203.85 L874.00,203.96 L874.50,204.06 L875.00,204.15 L875.50,204.22 L876.00,204.28 L876.50,204.33 L877.00,204.36 L877.50,204.38 L878.00,204.38 L878.50,204.38 L879.00,204.35 L879.50,204.32 L880.00,204.28 L880.50,204.23 L881.00,204.16 L881.50,204.09 L882.00,204.01 L882.50,203.91 L883.00,203.80 L883.50,203.68 L884.00,203.55 L884.50,203.41 L885.00,203.25 L885.50,203.08 L886.00,202.91 L886.50,202.73 L887.00,202.55 L887.50,202.36 L888.00,202.17 L888.50,201.97 L889.00,201.77 L889.50,201.56 L890.00,201.35 L890.50,201.12 L891.00,200.90 L891.50,200.66 L892.00,200.41 L892.50,200.15 L893.00,199.89 L893.50,199.61 L894.00,199.32 L894.50,199.03 L895.00,198.72 L895.50,198.42 L896.00,198.11 L896.50,197.79 L897.00,197.48 L897.50,197.16 L898.00,196.84 L898.50,196.52 L899.00,196.19 L899.50,195.87 L900.00,195.54 L900.50,195.21 L901.00,194.88 L901.50,194.55 L902.00,194.21 L902.50,193.87 L903.00,193.53 L903.50,193.19 L904.00,192.84 L904.50,192.49 L905.00,192.14 L905.50,191.79 L906.00,191.44 L906.50,191.08 L907.00,190.72 L907.50,190.36 L908.00,190.01 L908.50,189.65 L909.00,189.30 L909.50,188.94 L910.00,188.59 L910.50,188.24 L911.00,187.89 L911.50,187.55 L912.00,187.21 L912.50,186.88 L913.00,186.55 L913.50,186.23 L914.00,185.91 L914.50,185.60 L915.00,185.29 L915.50,184.99 L916.00,184.69 L916.50,184.40 L917.00,184.11 L917.50,183.82 L918.00,183.54 L918.50,183.26 L919.00,182.98 L919.50,182.71 L920.00,182.44 L920.50,182.17 L921.00,181.91 L921.50,181.65 L922.00,181.40 L922.50,181.15 L923.00,180.92 L923.50,180.69 L924.00,180.47 L924.50,180.26 L925.00,180.05 L925.50,179.85 L926.00,179.66 L926.50,179.47 L927.00,179.29 L927.50,179.11 L928.00,178.94 L928.50,178.77 L929.00,178.60 L929.50,178.44 L930.00,178.29 L930.50,178.14 L931.00,178.00 L931.50,177.87 L932.00,177.75 L932.50,177.65 L933.00,177.56 L933.50,177.48 L934.00,177.43 L934.50,177.39 L935.00,177.37 L935.50,177.38 L936.00,177.40 L936.50,177.45 L937.00,177.52 L937.50,177.60 L938.00,177.70 L938.50,177.81 L939.00,177.93 L939.50,178.06 L940.00,178.19 L940.50,178.33 L941.00,178.48 L941.50,178.63 L942.00,178.79 L942.50,178.95 L943.00,179.12 L943.50,179.30 L944.00,179.48 L944.50,179.66 L945.00,179.85 L945.50,180.05 L946.00,180.25 L946.50,180.45 L947.00,180.65 L947.50,180.85 L948.00,181.06 L948.50,181.27 L949.00,181.48 L949.50,181.69 L950.00,181.90 L950.50,182.11 L951.00,182.32 L951.50,182.53 L952.00,182.74 L952.50,182.95 L953.00,183.16 L953.50,183.37 L954.00,183.58 L954.50,183.78 L955.00,183.99 L955.50,184.19 L956.00,184.40 L956.50,184.60 L957.00,184.79 L957.50,184.99 L958.00,185.18 L958.50,185.37 L959.00,185.56 L959.50,185.74 L960.00,185.92 L960.50,186.10 L961.00,186.28 L961.50,186.45 L962.00,186.63 L962.50,186.79 L963.00,186.96 L963.50,187.12 L964.00,187.29 L964.50,187.44 L965.00,187.59 L965.50,187.73 L966.00,187.86 L966.50,187.97 L967.00,188.06 L967.50,188.13 L968.00,188.19 L968.50,188.23 L969.00,188.25 L969.50,188.26 L970.00,188.25 L970.50,188.24 L971.00,188.21 L971.50,188.17 L972.00,188.12 L972.50,188.06 L973.00,188.00 L973.50,187.92 L974.00,187.84 L974.50,187.75 L975.00,187.66 L975.50,187.55 L976.00,187.43 L976.50,187.30 L977.00,187.16 L977.50,187.01 L978.00,186.84 L978.50,186.66 L979.00,186.47 L979.50,186.26 L980.00,186.03 L980.50,185.79 L981.00,185.53 L981.50,185.26 L982.00,184.99 L982.50,184.70 L983.00,184.42 L983.50,184.13 L984.00,183.83 L984.50,183.54 L985.00,183.24 L985.50,182.94 L986.00,182.64 L986.50,182.34 L987.00,182.04 L987.50,181.74 L988.00,181.44 L988.50,181.15 L989.00,180.85 L989.50,180.56 L990.00,180.27 L990.50,179.98 L991.00,179.70 L991.50,179.42 L992.00,179.14 L992.50,178.86 L993.00,178.59 L993.50,178.31 L994.00,178.04 L994.50,177.76 L995.00,177.49 L995.50,177.22 L996.00,176.95 L996.50,176.68 L997.00,176.41 L997.50,176.14 L998.00,175.87 L998.50,175.60 L999.00,175.34 L999.50,175.07 L1000.00,174.81 L1000.50,174.54 L1001.00,174.28 L1001.50,174.02 L1002.00,173.76 L1002.50,173.51 L1003.00,173.26 L1003.50,173.01 L1004.00,172.77 L1004.50,172.54 L1005.00,172.31 L1005.50,172.09 L1006.00,171.88 L1006.50,171.67 L1007.00,171.47 L1007.50,171.27 L1008.00,171.08 L1008.50,170.90 L1009.00,170.72 L1009.50,170.54 L1010.00,170.37 L1010.50,170.21 L1011.00,170.05 L1011.50,169.91 L1012.00,169.77 L1012.50,169.65 L1013.00,169.55 L1013.50,169.46 L1014.00,169.38 L1014.50,169.32 L1015.00,169.27 L1015.50,169.23 L1016.00,169.21 L1016.50,169.19 L1017.00,169.19 L1017.50,169.19 L1018.00,169.21 L1018.50,169.23 L1019.00,169.27 L1019.50,169.31 L1020.00,169.36 L1020.50,169.42 L1021.00,169.49 L1021.50,169.57 L1022.00,169.67 L1022.50,169.77 L1023.00,169.88 L1023.50,170.01 L1024.00,170.15 L1024.50,170.29 L1025.00,170.45 L1025.50,170.62 L1026.00,170.80 L1026.50,170.99 L1027.00,171.18 L1027.50,171.38 L1028.00,171.59 L1028.50,171.80 L1029.00,172.02 L1029.50,172.24 L1030.00,172.47 L1030.50,172.71 L1031.00,172.95 L1031.50,173.19 L1032.00,173.43 L1032.50,173.69 L1033.00,173.94 L1033.50,174.20 L1034.00,174.47 L1034.50,174.75 L1035.00,175.04 L1035.50,175.34 L1036.00,175.66 L1036.50,175.99 L1037.00,176.33 L1037.50,176.68 L1038.00,177.03 L1038.50,177.38 L1039.00,177.74 L1039.50,178.09 L1040.00,178.43 L1040.50,178.76 L1041.00,179.08 L1041.50,179.39 L1042.00,179.66 L1042.50,179.91 L1043.00,180.11 L1043.50,180.28 L1044.00,180.42 L1044.50,180.55 L1045.00,180.71 L1045.50,180.90 L1046.00,181.12 L1046.50,181.37 L1047.00,181.65 L1047.50,181.94 L1048.00,182.24 L1048.50,182.55 L1049.00,182.86 L1049.50,183.16 L1050.00,183.46 L1050.50,183.75 L1051.00,184.02 L1051.50,184.28 L1052.00,184.52 L1052.50,184.74 L1053.00,184.95 L1053.50,185.15 L1054.00,185.34 L1054.50,185.51 L1055.00,185.68 L1055.50,185.83 L1056.00,185.98 L1056.50,186.11 L1057.00,186.23 L1057.50,186.34 L1058.00,186.44 L1058.50,186.53 L1059.00,186.60 L1059.50,186.67 L1060.00,186.71 L1060.50,186.75 L1061.00,186.77 L1061.50,186.78 L1062.00,186.77 L1062.50,186.75 L1063.00,186.71 L1063.50,186.65 L1064.00,186.57 L1064.50,186.47 L1065.00,186.35 L1065.50,186.21 L1066.00,186.05 L1066.50,185.87 L1067.00,185.67 L1067.50,185.44 L1068.00,185.19 L1068.50,184.91 L1069.00,184.62 L1069.50,184.30 L1070.00,183.97 L1070.50,183.62 L1071.00,183.27 L1071.50,182.90 L1072.00,182.54 L1072.50,182.16 L1073.00,181.78 L1073.50,181.39 L1074.00,181.00 L1074.50,180.60 L1075.00,180.19 L1075.50,179.77 L1076.00,179.34 L1076.50,178.91 L1077.00,178.47 L1077.50,178.02 L1078.00,177.56 L1078.50,177.09 L1079.00,176.62 L1079.50,176.14 L1080.00,175.67 L1080.50,175.19 L1081.00,174.71 L1081.50,174.24 L1082.00,173.76 L1082.50,173.28 L1083.00,172.80 L1083.50,172.33 L1084.00,171.85 L1084.50,171.37 L1085.00,170.90 L1085.50,170.42 L1086.00,169.94 L1086.50,169.46 L1087.00,168.99 L1087.50,168.51 L1088.00,168.03 L1088.50,167.55 L1089.00,167.08 L1089.50,166.60 L1090.00,166.12 L1090.50,165.65 L1091.00,165.17 L1091.50,164.69 L1092.00,164.21 L1092.50,163.74 L1093.00,163.26 L1093.50,162.78 L1094.00,162.30 L1094.50,161.83 L1095.00,161.35 L1095.50,160.88 L1096.00,160.42 L1096.50,159.97 L1097.00,159.54 L1097.50,159.13 L1098.00,158.74 L1098.50,158.38 L1099.00,158.04 L1099.50,157.73 L1100.00,157.44 L1100.50,157.17 L1101.00,156.93 L1101.50,156.71 L1102.00,156.51 L1102.50,156.33 L1103.00,156.17 L1103.50,156.03 L1104.00,155.91 L1104.50,155.80 L1105.00,155.71 L1105.50,155.64 L1106.00,155.58 L1106.50,155.54 L1107.00,155.52 L1107.50,155.51 L1108.00,155.51 L1108.50,155.53 L1109.00,155.57 L1109.50,155.63 L1110.00,155.70 L1110.50,155.79 L1111.00,155.90 L1111.50,156.03 L1112.00,156.18 L1112.50,156.34 L1113.00,156.52 L1113.50,156.73 L1114.00,156.95 L1114.50,157.19 L1115.00,157.45 L1115.50,157.72 L1116.00,158.00 L1116.50,158.29 L1117.00,158.59 L1117.50,158.89 L1118.00,159.19 L1118.50,159.49 L1119.00,159.80 L1119.50,160.11 L1120.00,160.42 L1120.50,160.74 L1121.00,161.06 L1121.50,161.39 L1122.00,161.72 L1122.50,162.06 L1123.00,162.41 L1123.50,162.76 L1124.00,163.12 L1124.50,163.48 L1125.00,163.85 L1125.50,164.22 L1126.00,164.59 L1126.50,164.97 L1127.00,165.34 L1127.50,165.72 L1128.00,166.10 L1128.50,166.47 L1129.00,166.85 L1129.50,167.23 L1130.00,167.61 L1130.50,167.98 L1131.00,168.36 L1131.50,168.73 L1132.00,169.11 L1132.50,169.48 L1133.00,169.85 L1133.50,170.22 L1134.00,170.58 L1134.50,170.95 L1135.00,171.31 L1135.50,171.68 L1136.00,172.04 L1136.50,172.39 L1137.00,172.75 L1137.50,173.10 L1138.00,173.46 L1138.50,173.81 L1139.00,174.15 L1139.50,174.50 L1140.00,174.84 L1140.50,175.18 L1141.00,175.52 L1141.50,175.85 L1142.00,176.18 L1142.50,176.49 L1143.00,176.79 L1143.50,177.07 L1144.00,177.34 L1144.50,177.59 L1145.00,177.82 L1145.50,178.04 L1146.00,178.25 L1146.50,178.44 L1147.00,178.62 L1147.50,178.79 L1148.00,178.94 L1148.50,179.09 L1149.00,179.23 L1149.50,179.37 L1150.00,179.50 L1150.50,179.62 L1151.00,179.74 L1151.50,179.85 L1152.00,179.95 L1152.50,180.04 L1153.00,180.13 L1153.50,180.20 L1154.00,180.26 L1154.50,180.31 L1155.00,180.34 L1155.50,180.36 L1156.00,180.36 L1156.50,180.33 L1157.00,180.29 L1157.50,180.23 L1158.00,180.15 L1158.50,180.05 L1159.00,179.94 L1159.50,179.82 L1160.00,179.69 L1160.50,179.55 L1161.00,179.41 L1161.50,179.27 L1162.00,179.12 L1162.50,178.97 L1163.00,178.82 L1163.50,178.67 L1164.00,178.52 L1164.50,178.37 L1165.00,178.22 L1165.50,178.07 L1166.00,177.92 L1166.50,177.77 L1167.00,177.62 L1167.50,177.48 L1168.00,177.33 L1168.50,177.19 L1169.00,177.05 L1169.50,176.92 L1170.00,176.79 L1170.50,176.67 L1171.00,176.55 L1171.50,176.44 L1172.00,176.33 L1172.50,176.22 L1173.00,176.12 L1173.50,176.03 L1174.00,175.94 L1174.50,175.86 L1175.00,175.77 L1175.50,175.70 L1176.00,175.62 L1176.50,175.55 L1177.00,175.48 L1177.50,175.42 L1178.00,175.36 L1178.50,175.30 L1179.00,175.25 L1179.50,175.21 L1180.00,175.17 L1180.50,175.15 L1181.00,175.13 L1181.50,175.14 L1182.00,175.16 L1182.50,175.19 L1183.00,175.25 L1183.50,175.32 L1184.00,175.42 L1184.50,175.54 L1185.00,175.67 L1185.50,175.84 L1186.00,176.02 L1186.50,176.24 L1187.00,176.47 L1187.50,176.73 L1188.00,177.02 L1188.50,177.32 L1189.00,177.64 L1189.50,177.97 L1190.00,178.31 L1190.50,178.66 L1191.00,179.01 L1191.50,179.37 L1192.00,179.73 L1192.50,180.09 L1193.00,180.46 L1193.50,180.82 L1194.00,181.18 L1194.50,181.54 L1195.00,181.90 L1195.50,182.26 L1196.00,182.61 L1196.50,182.95 L1197.00,183.29 L1197.50,183.63 L1198.00,183.96 L1198.50,184.29 L1199.00,184.62 L1199.50,184.95 L1200.00,185.28 L1200.50,185.60 L1201.00,185.92 L1201.50,186.25 L1202.00,186.57 L1202.50,186.88 L1203.00,187.20 L1203.50,187.51 L1204.00,187.83 L1204.50,188.14 L1205.00,188.44 L1205.50,188.74 L1206.00,189.04 L1206.50,189.32 L1207.00,189.58 L1207.50,189.83 L1208.00,190.06 L1208.50,190.28 L1209.00,190.47 L1209.50,190.64 L1210.00,190.80 L1210.50,190.94 L1211.00,191.05 L1211.50,191.15 L1212.00,191.24 L1212.50,191.30 L1213.00,191.34 L1213.50,191.37 L1214.00,191.38 L1214.50,191.37 L1215.00,191.35 L1215.50,191.30 L1216.00,191.24 L1216.50,191.16 L1217.00,191.05 L1217.50,190.94 L1218.00,190.80 L1218.50,190.64 L1219.00,190.47 L1219.50,190.27 L1220.00,190.06 L1220.50,189.83 L1221.00,189.58 L1221.50,189.32 L1222.00,189.03 L1222.50,188.73 L1223.00,188.41 L1223.50,188.07 L1224.00,187.73 L1224.50,187.37 L1225.00,187.01 L1225.50,186.63 L1226.00,186.26 L1226.50,185.88 L1227.00,185.49 L1227.50,185.11 L1228.00,184.72 L1228.50,184.34 L1229.00,183.95 L1229.50,183.57 L1230.00,183.19 L1230.50,182.82 L1231.00,182.45 L1231.50,182.08 L1232.00,181.72 L1232.50,181.37 L1233.00,181.02 L1233.50,180.67 L1234.00,180.33 L1234.50,179.99 L1235.00,179.65 L1235.50,179.31 L1236.00,178.98 L1236.50,178.65 L1237.00,178.33 L1237.50,178.01 L1238.00,177.69 L1238.50,177.38 L1239.00,177.07 L1239.50,176.76 L1240.00,176.46 L1240.50,176.17 L1241.00,175.88 L1241.50,175.61 L1242.00,175.35 L1242.50,175.10 L1243.00,174.88 L1243.50,174.67 L1244.00,174.48 L1244.50,174.31 L1245.00,174.16 L1245.50,174.03 L1246.00,173.91 L1246.50,173.82 L1247.00,173.74 L1247.50,173.68 L1248.00,173.64 L1248.50,173.61 L1249.00,173.60 L1249.50,173.61 L1250.00,173.63 L1250.50,173.67 L1251.00,173.72 L1251.50,173.77 L1252.00,173.84 L1252.50,173.92 L1253.00,174.01 L1253.50,174.12 L1254.00,174.23 L1254.50,174.35 L1255.00,174.48 L1255.50,174.62 L1256.00,174.77 L1256.50,174.94 L1257.00,175.11 L1257.50,175.29 L1258.00,175.49 L1258.50,175.69 L1259.00,175.90 L1259.50,176.12 L1260.00,176.35 L1260.50,176.59 L1261.00,176.82 L1261.50,177.07 L1262.00,177.31 L1262.50,177.56 L1263.00,177.82 L1263.50,178.07 L1264.00,178.32 L1264.50,178.57 L1265.00,178.82 L1265.50,179.07 L1266.00,179.31 L1266.50,179.55 L1267.00,179.79 L1267.50,180.02 L1268.00,180.24 L1268.50,180.46 L1269.00,180.68 L1269.50,180.89 L1270.00,181.09 L1270.50,181.30 L1271.00,181.50 L1271.50,181.69 L1272.00,181.89 L1272.50,182.08 L1273.00,182.26 L1273.50,182.44 L1274.00,182.62 L1274.50,182.79 L1275.00,182.95 L1275.50,183.11 L1276.00,183.26 L1276.50,183.40 L1277.00,183.53 L1277.50,183.66 L1278.00,183.78 L1278.50,183.89 L1279.00,184.00 L1279.50,184.10 L1280.00,184.19 L1280.50,184.28 L1281.00,184.36 L1281.50,184.44 L1282.00,184.51 L1282.50,184.57 L1283.00,184.63 L1283.50,184.68 L1284.00,184.73 L1284.50,184.77 L1285.00,184.81 L1285.50,184.83 L1286.00,184.86 L1286.50,184.87 L1287.00,184.89 L1287.50,184.89 L1288.00,184.89 L1288.50,184.89 L1289.00,184.89 L1289.50,184.88 L1290.00,184.87 L1290.50,184.86 L1291.00,184.85 L1291.50,184.84 L1292.00,184.83 L1292.50,184.82 L1293.00,184.81 L1293.50,184.80 L1294.00,184.78 L1294.50,184.77 L1295.00,184.76 L1295.50,184.74 L1296.00,184.73 L1296.50,184.71 L1297.00,184.69 L1297.50,184.68 L1298.00,184.66 L1298.50,184.64 L1299.00,184.63 L1299.50,184.61 L1300.00,184.59 L1300.50,184.57 L1301.00,184.55 L1301.50,184.53 L1302.00,184.51 L1302.50,184.48 L1303.00,184.46 L1303.50,184.44 L1304.00,184.41 L1304.50,184.39 L1305.00,184.36 L1305.50,184.34 L1306.00,184.31 L1306.50,184.28 L1307.00,184.26 L1307.50,184.23 L1308.00,184.20 L1308.50,184.17 L1309.00,184.14 L1309.50,184.11 L1310.00,184.07 L1310.50,184.04 L1311.00,184.00 L1311.50,183.96 L1312.00,183.91 L1312.50,183.86 L1313.00,183.80 L1313.50,183.73 L1314.00,183.65 L1314.50,183.57 L1315.00,183.48 L1315.50,183.38 L1316.00,183.27 L1316.50,183.16 L1317.00,183.03 L1317.50,182.90 L1318.00,182.76 L1318.50,182.62 L1319.00,182.46 L1319.50,182.30 L1320.00,182.13 L1320.50,181.95 L1321.00,181.76 L1321.50,181.57 L1322.00,181.37 L1322.50,181.16 L1323.00,180.94 L1323.50,180.73 L1324.00,180.50 L1324.50,180.27 L1325.00,180.04 L1325.50,179.80 L1326.00,179.56 L1326.50,179.31 L1327.00,179.06 L1327.50,178.81 L1328.00,178.55 L1328.50,178.29 L1329.00,178.02 L1329.50,177.75 L1330.00,177.48 L1330.50,177.21 L1331.00,176.93 L1331.50,176.65 L1332.00,176.37 L1332.50,176.08 L1333.00,175.79 L1333.50,175.49 L1334.00,175.20 L1334.50,174.90 L1335.00,174.59 L1335.50,174.29 L1336.00,173.98 L1336.50,173.68 L1337.00,173.37 L1337.50,173.06 L1338.00,172.76 L1338.50,172.45 L1339.00,172.15 L1339.50,171.85 L1340.00,171.55 L1340.50,171.26 L1341.00,170.97 L1341.50,170.68 L1342.00,170.40 L1342.50,170.13 L1343.00,169.86 L1343.50,169.60 L1344.00,169.34 L1344.50,169.09 L1345.00,168.85 L1345.50,168.61 L1346.00,168.37 L1346.50,168.14 L1347.00,167.92 L1347.50,167.71 L1348.00,167.51 L1348.50,167.32 L1349.00,167.16 L1349.50,167.01 L1350.00,166.88 L1350.50,166.78 L1351.00,166.70 L1351.50,166.63 L1352.00,166.58 L1352.50,166.55 L1353.00,166.53 L1353.50,166.52 L1354.00,166.53 L1354.50,166.55 L1355.00,166.58 L1355.50,166.63 L1356.00,166.69 L1356.50,166.77 L1357.00,166.86 L1357.50,166.96 L1358.00,167.06 L1358.50,167.17 L1359.00,167.26 L1359.20,167.32 L1359.20,209.80 Z" fill="#ccdef2" stroke="#2e2a29" stroke-width="4.8" stroke-linejoin="round"/>
<path d="M887.60,443.10 L887.60,429.51 L888.10,429.51 L888.60,429.53 L889.10,429.54 L889.60,429.57 L890.10,429.60 L890.60,429.63 L891.10,429.67 L891.60,429.71 L892.10,429.76 L892.60,429.81 L893.10,429.86 L893.60,429.92 L894.10,429.97 L894.60,430.03 L895.10,430.10 L895.60,430.16 L896.10,430.24 L896.60,430.32 L897.10,430.42 L897.60,430.53 L898.10,430.65 L898.60,430.79 L899.10,430.93 L899.60,431.08 L900.10,431.24 L900.60,431.39 L901.10,431.54 L901.60,431.69 L902.10,431.82 L902.60,431.95 L903.10,432.05 L903.60,432.15 L904.10,432.21 L904.60,432.26 L905.10,432.28 L905.60,432.26 L906.10,432.22 L906.60,432.15 L907.10,432.05 L907.60,431.92 L908.10,431.77 L908.60,431.60 L909.10,431.40 L909.60,431.18 L910.10,430.95 L910.60,430.70 L911.10,430.43 L911.60,430.15 L912.10,429.85 L912.60,429.55 L913.10,429.23 L913.60,428.91 L914.10,428.58 L914.60,428.24 L915.10,427.89 L915.60,427.53 L916.10,427.16 L916.60,426.78 L917.10,426.37 L917.60,425.96 L918.10,425.52 L918.60,425.07 L919.10,424.59 L919.60,424.09 L920.10,423.57 L920.60,423.03 L921.10,422.47 L921.60,421.89 L922.10,421.30 L922.60,420.71 L923.10,420.10 L923.60,419.49 L924.10,418.88 L924.60,418.27 L925.10,417.65 L925.60,417.02 L926.10,416.40 L926.60,415.77 L927.10,415.14 L927.60,414.51 L928.10,413.88 L928.60,413.24 L929.10,412.60 L929.60,411.96 L930.10,411.31 L930.60,410.66 L931.10,410.00 L931.60,409.33 L932.10,408.66 L932.60,407.99 L933.10,407.31 L933.60,406.63 L934.10,405.95 L934.60,405.27 L935.10,404.59 L935.60,403.92 L936.10,403.26 L936.60,402.60 L937.10,401.95 L937.60,401.33 L938.10,400.73 L938.60,400.16 L939.10,399.63 L939.60,399.15 L940.10,398.72 L940.60,398.33 L941.10,397.99 L941.60,397.69 L942.10,397.44 L942.60,397.23 L943.10,397.06 L943.60,396.93 L944.10,396.84 L944.60,396.78 L945.10,396.76 L945.60,396.76 L946.10,396.80 L946.60,396.86 L947.10,396.94 L947.60,397.05 L948.10,397.18 L948.60,397.34 L949.10,397.51 L949.60,397.70 L950.10,397.92 L950.60,398.15 L951.10,398.40 L951.60,398.67 L952.10,398.96 L952.60,399.27 L953.10,399.60 L953.60,399.95 L954.10,400.31 L954.60,400.69 L955.10,401.07 L955.60,401.45 L956.10,401.83 L956.60,402.20 L957.10,402.56 L957.60,402.91 L958.10,403.23 L958.60,403.54 L959.10,403.82 L959.60,404.08 L960.10,404.31 L960.60,404.52 L961.10,404.69 L961.60,404.84 L962.10,404.96 L962.60,405.04 L963.10,405.09 L963.60,405.09 L964.10,405.06 L964.60,404.98 L965.10,404.87 L965.60,404.71 L966.10,404.53 L966.60,404.30 L967.10,404.05 L967.60,403.76 L968.10,403.45 L968.60,403.12 L969.10,402.76 L969.60,402.38 L970.10,401.98 L970.60,401.56 L971.10,401.13 L971.60,400.67 L972.10,400.19 L972.60,399.69 L973.10,399.17 L973.60,398.63 L974.10,398.07 L974.60,397.49 L975.10,396.91 L975.60,396.33 L976.10,395.74 L976.60,395.16 L977.10,394.60 L977.60,394.04 L978.10,393.50 L978.60,392.99 L979.10,392.49 L979.60,392.03 L980.10,391.58 L980.60,391.15 L981.10,390.74 L981.60,390.34 L982.10,389.97 L982.60,389.60 L983.10,389.26 L983.60,388.93 L984.10,388.62 L984.60,388.33 L985.10,388.07 L985.60,387.83 L986.10,387.62 L986.60,387.43 L987.10,387.28 L987.60,387.15 L988.10,387.05 L988.60,386.99 L989.10,386.96 L989.60,386.96 L990.10,386.98 L990.60,387.03 L991.10,387.10 L991.60,387.19 L992.10,387.30 L992.60,387.42 L993.10,387.57 L993.60,387.73 L994.10,387.91 L994.60,388.10 L995.10,388.31 L995.60,388.53 L996.10,388.77 L996.60,389.02 L997.10,389.28 L997.60,389.55 L998.10,389.83 L998.60,390.12 L999.10,390.40 L999.60,390.70 L1000.10,390.99 L1000.60,391.28 L1001.10,391.57 L1001.60,391.86 L1002.10,392.15 L1002.60,392.43 L1003.10,392.71 L1003.60,392.98 L1004.10,393.25 L1004.60,393.52 L1005.10,393.80 L1005.60,394.07 L1006.10,394.34 L1006.60,394.61 L1007.10,394.88 L1007.60,395.14 L1008.10,395.38 L1008.60,395.61 L1009.10,395.83 L1009.60,396.03 L1010.10,396.20 L1010.60,396.35 L1011.10,396.47 L1011.60,396.56 L1012.10,396.62 L1012.60,396.65 L1013.10,396.66 L1013.60,396.65 L1014.10,396.61 L1014.60,396.56 L1015.10,396.49 L1015.60,396.42 L1016.10,396.33 L1016.60,396.23 L1017.10,396.12 L1017.60,396.01 L1018.10,395.90 L1018.60,395.78 L1019.10,395.66 L1019.60,395.55 L1020.10,395.43 L1020.60,395.32 L1021.10,395.21 L1021.60,395.09 L1022.10,394.96 L1022.60,394.84 L1023.10,394.71 L1023.60,394.57 L1024.10,394.43 L1024.60,394.30 L1025.10,394.16 L1025.60,394.02 L1026.10,393.89 L1026.60,393.76 L1027.10,393.64 L1027.60,393.52 L1028.10,393.42 L1028.60,393.33 L1029.10,393.26 L1029.60,393.21 L1030.10,393.21 L1030.60,393.23 L1031.10,393.30 L1031.60,393.40 L1032.10,393.55 L1032.60,393.72 L1033.10,393.92 L1033.60,394.16 L1034.10,394.42 L1034.60,394.71 L1035.10,395.01 L1035.60,395.34 L1036.10,395.68 L1036.60,396.05 L1037.10,396.43 L1037.60,396.82 L1038.10,397.24 L1038.60,397.68 L1039.10,398.15 L1039.60,398.63 L1040.10,399.13 L1040.60,399.65 L1041.10,400.18 L1041.60,400.71 L1042.10,401.25 L1042.60,401.79 L1043.10,402.32 L1043.60,402.85 L1044.10,403.36 L1044.60,403.86 L1045.10,404.34 L1045.60,404.79 L1046.10,405.23 L1046.60,405.65 L1047.10,406.05 L1047.60,406.43 L1048.10,406.80 L1048.60,407.15 L1049.10,407.48 L1049.60,407.80 L1050.10,408.10 L1050.60,408.38 L1051.10,408.65 L1051.60,408.90 L1052.10,409.14 L1052.60,409.35 L1053.10,409.55 L1053.60,409.73 L1054.10,409.88 L1054.60,409.99 L1055.10,410.07 L1055.60,410.09 L1056.10,410.07 L1056.60,409.98 L1057.10,409.85 L1057.60,409.65 L1058.10,409.40 L1058.60,409.08 L1059.10,408.71 L1059.60,408.28 L1060.10,407.80 L1060.60,407.26 L1061.10,406.67 L1061.60,406.03 L1062.10,405.36 L1062.60,404.65 L1063.10,403.92 L1063.60,403.17 L1064.10,402.39 L1064.60,401.59 L1065.10,400.77 L1065.60,399.93 L1066.10,399.07 L1066.60,398.18 L1067.10,397.28 L1067.60,396.35 L1068.10,395.41 L1068.60,394.45 L1069.10,393.46 L1069.60,392.46 L1070.10,391.43 L1070.60,390.39 L1071.10,389.32 L1071.60,388.24 L1072.10,387.15 L1072.60,386.04 L1073.10,384.93 L1073.60,383.81 L1074.10,382.70 L1074.60,381.58 L1075.10,380.48 L1075.60,379.38 L1076.10,378.30 L1076.60,377.23 L1077.10,376.18 L1077.60,375.15 L1078.10,374.15 L1078.60,373.17 L1079.10,372.22 L1079.60,371.28 L1080.10,370.37 L1080.60,369.49 L1081.10,368.62 L1081.60,367.77 L1082.10,366.94 L1082.60,366.12 L1083.10,365.33 L1083.60,364.55 L1084.10,363.78 L1084.60,363.03 L1085.10,362.29 L1085.60,361.57 L1086.10,360.88 L1086.60,360.21 L1087.10,359.59 L1087.60,359.01 L1088.10,358.49 L1088.60,358.03 L1089.10,357.62 L1089.60,357.26 L1090.10,356.97 L1090.60,356.72 L1091.10,356.52 L1091.60,356.38 L1092.10,356.28 L1092.60,356.24 L1093.10,356.25 L1093.60,356.31 L1094.10,356.42 L1094.60,356.59 L1095.10,356.81 L1095.60,357.09 L1096.10,357.43 L1096.60,357.82 L1097.10,358.27 L1097.60,358.78 L1098.10,359.34 L1098.60,359.96 L1099.10,360.62 L1099.60,361.33 L1100.10,362.07 L1100.60,362.84 L1101.10,363.64 L1101.60,364.46 L1102.10,365.32 L1102.60,366.20 L1103.10,367.11 L1103.60,368.04 L1104.10,369.01 L1104.60,370.01 L1105.10,371.04 L1105.60,372.11 L1106.10,373.21 L1106.60,374.36 L1107.10,375.54 L1107.60,376.77 L1108.10,378.02 L1108.60,379.28 L1109.10,380.56 L1109.60,381.84 L1110.10,383.09 L1110.60,384.33 L1111.10,385.52 L1111.60,386.67 L1112.10,387.77 L1112.60,388.81 L1113.10,389.81 L1113.60,390.77 L1114.10,391.71 L1114.60,392.63 L1115.10,393.55 L1115.60,394.46 L1116.10,395.37 L1116.60,396.28 L1117.10,397.19 L1117.60,398.10 L1118.10,399.00 L1118.60,399.91 L1119.10,400.81 L1119.60,401.72 L1120.10,402.62 L1120.60,403.52 L1121.10,404.42 L1121.60,405.32 L1122.10,406.22 L1122.60,407.12 L1123.10,408.01 L1123.60,408.90 L1124.10,409.79 L1124.60,410.66 L1125.10,411.51 L1125.60,412.33 L1126.10,413.12 L1126.60,413.87 L1127.10,414.59 L1127.60,415.28 L1128.10,415.93 L1128.60,416.56 L1129.10,417.15 L1129.60,417.73 L1130.10,418.27 L1130.60,418.80 L1131.10,419.30 L1131.60,419.79 L1132.10,420.26 L1132.60,420.71 L1133.10,421.14 L1133.60,421.54 L1134.10,421.92 L1134.60,422.27 L1135.10,422.59 L1135.60,422.88 L1136.10,423.13 L1136.60,423.35 L1137.10,423.54 L1137.60,423.70 L1138.10,423.82 L1138.60,423.91 L1139.10,423.97 L1139.60,423.99 L1140.10,423.99 L1140.60,423.95 L1141.10,423.88 L1141.60,423.79 L1142.10,423.68 L1142.60,423.54 L1143.10,423.39 L1143.60,423.21 L1144.10,423.02 L1144.60,422.82 L1145.10,422.59 L1145.60,422.35 L1146.10,422.09 L1146.60,421.81 L1147.10,421.51 L1147.60,421.19 L1148.10,420.86 L1148.60,420.50 L1149.10,420.13 L1149.60,419.73 L1150.10,419.31 L1150.60,418.87 L1151.10,418.40 L1151.60,417.92 L1152.10,417.41 L1152.60,416.89 L1153.10,416.36 L1153.60,415.83 L1154.10,415.29 L1154.60,414.76 L1155.10,414.24 L1155.60,413.72 L1156.10,413.22 L1156.60,412.74 L1157.10,412.29 L1157.60,411.85 L1158.10,411.44 L1158.60,411.04 L1159.10,410.66 L1159.60,410.29 L1160.10,409.93 L1160.60,409.59 L1161.10,409.25 L1161.60,408.93 L1162.10,408.62 L1162.60,408.32 L1163.10,408.05 L1163.60,407.79 L1164.10,407.55 L1164.60,407.34 L1165.10,407.14 L1165.60,406.98 L1166.10,406.83 L1166.60,406.72 L1167.10,406.63 L1167.60,406.57 L1168.10,406.53 L1168.60,406.51 L1169.10,406.50 L1169.60,406.51 L1170.10,406.52 L1170.60,406.55 L1171.10,406.58 L1171.60,406.62 L1172.10,406.66 L1172.60,406.72 L1173.10,406.77 L1173.60,406.83 L1174.10,406.89 L1174.60,406.96 L1175.10,407.03 L1175.60,407.10 L1176.10,407.18 L1176.60,407.26 L1177.10,407.35 L1177.60,407.45 L1178.10,407.56 L1178.60,407.67 L1179.10,407.79 L1179.60,407.91 L1180.10,408.04 L1180.60,408.16 L1181.10,408.29 L1181.60,408.41 L1182.10,408.53 L1182.60,408.63 L1183.10,408.73 L1183.60,408.82 L1184.10,408.90 L1184.60,408.95 L1185.10,408.98 L1185.60,408.98 L1186.10,408.95 L1186.60,408.88 L1187.10,408.77 L1187.60,408.62 L1188.10,408.43 L1188.60,408.19 L1189.10,407.90 L1189.60,407.57 L1190.10,407.18 L1190.60,406.74 L1191.10,406.26 L1191.60,405.73 L1192.10,405.17 L1192.60,404.59 L1193.10,403.98 L1193.60,403.37 L1194.10,402.75 L1194.60,402.12 L1195.10,401.48 L1195.60,400.85 L1196.10,400.21 L1196.60,399.57 L1197.10,398.93 L1197.60,398.29 L1198.10,397.66 L1198.60,397.04 L1199.10,396.41 L1199.60,395.80 L1200.10,395.19 L1200.60,394.58 L1201.10,393.98 L1201.60,393.38 L1202.10,392.79 L1202.60,392.20 L1203.10,391.60 L1203.60,391.02 L1204.10,390.43 L1204.60,389.84 L1205.10,389.26 L1205.60,388.69 L1206.10,388.11 L1206.60,387.54 L1207.10,386.98 L1207.60,386.42 L1208.10,385.89 L1208.60,385.40 L1209.10,384.95 L1209.60,384.56 L1210.10,384.24 L1210.60,383.98 L1211.10,383.78 L1211.60,383.63 L1212.10,383.53 L1212.60,383.46 L1213.10,383.43 L1213.60,383.43 L1214.10,383.46 L1214.60,383.52 L1215.10,383.63 L1215.60,383.77 L1216.10,383.97 L1216.60,384.21 L1217.10,384.52 L1217.60,384.88 L1218.10,385.31 L1218.60,385.81 L1219.10,386.37 L1219.60,386.98 L1220.10,387.63 L1220.60,388.31 L1221.10,389.00 L1221.60,389.70 L1222.10,390.40 L1222.60,391.10 L1223.10,391.80 L1223.60,392.50 L1224.10,393.20 L1224.60,393.90 L1225.10,394.60 L1225.60,395.30 L1226.10,396.00 L1226.60,396.70 L1227.10,397.40 L1227.60,398.10 L1228.10,398.80 L1228.60,399.50 L1229.10,400.20 L1229.60,400.90 L1230.10,401.60 L1230.60,402.30 L1231.10,403.00 L1231.60,403.69 L1232.10,404.38 L1232.60,405.05 L1233.10,405.69 L1233.60,406.30 L1234.10,406.87 L1234.60,407.39 L1235.10,407.87 L1235.60,408.31 L1236.10,408.71 L1236.60,409.08 L1237.10,409.41 L1237.60,409.71 L1238.10,409.98 L1238.60,410.23 L1239.10,410.45 L1239.60,410.65 L1240.10,410.82 L1240.60,410.97 L1241.10,411.10 L1241.60,411.21 L1242.10,411.30 L1242.60,411.37 L1243.10,411.43 L1243.60,411.49 L1244.10,411.55 L1244.60,411.60 L1245.10,411.67 L1245.60,411.74 L1246.10,411.83 L1246.60,411.94 L1247.10,412.06 L1247.60,412.20 L1248.10,412.37 L1248.60,412.55 L1249.10,412.74 L1249.60,412.93 L1250.10,413.14 L1250.60,413.36 L1251.10,413.58 L1251.60,413.81 L1252.10,414.05 L1252.60,414.30 L1253.10,414.57 L1253.60,414.85 L1254.10,415.14 L1254.60,415.45 L1255.10,415.77 L1255.60,416.12 L1256.10,416.48 L1256.60,416.86 L1257.10,417.26 L1257.60,417.67 L1258.10,418.09 L1258.60,418.53 L1259.10,418.96 L1259.60,419.40 L1260.10,419.84 L1260.60,420.28 L1261.10,420.71 L1261.60,421.13 L1262.10,421.54 L1262.60,421.94 L1263.10,422.32 L1263.60,422.69 L1264.10,423.05 L1264.60,423.40 L1265.10,423.74 L1265.60,424.06 L1266.10,424.37 L1266.60,424.67 L1267.10,424.96 L1267.60,425.23 L1268.10,425.48 L1268.60,425.71 L1269.10,425.92 L1269.60,426.11 L1270.10,426.28 L1270.60,426.42 L1271.10,426.53 L1271.60,426.62 L1272.10,426.68 L1272.60,426.70 L1273.10,426.69 L1273.60,426.65 L1274.10,426.58 L1274.60,426.48 L1275.10,426.35 L1275.60,426.19 L1276.10,426.02 L1276.60,425.82 L1277.10,425.60 L1277.60,425.36 L1278.10,425.11 L1278.60,424.84 L1279.10,424.56 L1279.60,424.27 L1280.10,423.97 L1280.60,423.65 L1281.10,423.31 L1281.60,422.96 L1282.10,422.60 L1282.60,422.21 L1283.10,421.82 L1283.60,421.42 L1284.10,421.02 L1284.60,420.61 L1285.10,420.21 L1285.60,419.81 L1286.10,419.42 L1286.60,419.04 L1287.10,418.67 L1287.60,418.32 L1288.10,417.99 L1288.60,417.67 L1289.10,417.36 L1289.60,417.07 L1290.10,416.80 L1290.60,416.54 L1291.10,416.30 L1291.60,416.08 L1292.10,415.90 L1292.60,415.75 L1293.10,415.63 L1293.60,415.55 L1294.10,415.52 L1294.60,415.54 L1295.10,415.60 L1295.60,415.71 L1296.10,415.85 L1296.60,416.03 L1297.10,416.24 L1297.60,416.47 L1298.10,416.72 L1298.60,416.99 L1299.10,417.27 L1299.60,417.57 L1300.10,417.89 L1300.60,418.22 L1301.10,418.56 L1301.60,418.90 L1302.10,419.26 L1302.60,419.62 L1303.10,419.99 L1303.60,420.36 L1304.10,420.74 L1304.60,421.13 L1305.10,421.53 L1305.60,421.94 L1306.10,422.35 L1306.60,422.77 L1307.10,423.19 L1307.60,423.62 L1308.10,424.05 L1308.60,424.47 L1309.10,424.90 L1309.60,425.32 L1310.10,425.73 L1310.60,426.14 L1311.10,426.54 L1311.60,426.92 L1312.10,427.29 L1312.60,427.64 L1313.10,427.98 L1313.60,428.29 L1314.10,428.57 L1314.60,428.84 L1315.10,429.07 L1315.60,429.28 L1316.10,429.46 L1316.60,429.62 L1317.10,429.74 L1317.60,429.84 L1318.10,429.90 L1318.60,429.93 L1319.10,429.93 L1319.60,429.89 L1320.10,429.82 L1320.60,429.70 L1321.10,429.55 L1321.60,429.35 L1322.10,429.12 L1322.60,428.85 L1323.10,428.55 L1323.60,428.21 L1324.10,427.84 L1324.60,427.44 L1325.10,427.01 L1325.60,426.54 L1326.10,426.05 L1326.60,425.54 L1327.10,425.00 L1327.60,424.45 L1328.10,423.88 L1328.60,423.30 L1329.10,422.71 L1329.60,422.12 L1330.10,421.52 L1330.60,420.91 L1331.10,420.31 L1331.60,419.71 L1332.10,419.12 L1332.60,418.54 L1333.10,417.96 L1333.60,417.40 L1334.10,416.86 L1334.60,416.33 L1335.10,415.81 L1335.60,415.30 L1336.10,414.80 L1336.60,414.31 L1337.10,413.82 L1337.60,413.35 L1338.10,412.89 L1338.60,412.44 L1339.10,412.01 L1339.60,411.58 L1340.10,411.17 L1340.60,410.78 L1341.10,410.41 L1341.60,410.06 L1342.10,409.75 L1342.60,409.47 L1343.10,409.23 L1343.60,409.04 L1344.10,408.88 L1344.60,408.76 L1345.10,408.67 L1345.60,408.62 L1346.10,408.60 L1346.60,408.61 L1347.10,408.64 L1347.60,408.70 L1348.10,408.78 L1348.60,408.89 L1349.10,409.03 L1349.60,409.19 L1350.10,409.38 L1350.60,409.59 L1351.10,409.82 L1351.60,410.08 L1352.10,410.37 L1352.60,410.68 L1353.10,411.01 L1353.60,411.36 L1354.10,411.73 L1354.60,412.11 L1355.10,412.52 L1355.60,412.94 L1356.10,413.38 L1356.60,413.84 L1357.10,414.31 L1357.60,414.78 L1358.10,415.23 L1358.60,415.62 L1359.00,415.92 L1359.00,443.10 Z" fill="#ccdef2" stroke="#2e2a29" stroke-width="4.8" stroke-linejoin="round"/>
<!-- points -->
<circle cx="85.4" cy="241.5" r="8.2" fill="#b2aeab" stroke="#000" stroke-width="3.5"/>
<circle cx="141.5" cy="241.5" r="8.2" fill="#b2aeab" stroke="#000" stroke-width="3.5"/>
<circle cx="145.6" cy="241.5" r="8.2" fill="#b2aeab" stroke="#000" stroke-width="3.5"/>
<circle cx="195.4" cy="241.5" r="8.2" fill="#b2aeab" stroke="#000" stroke-width="3.5"/>
<circle cx="208.9" cy="241.5" r="8.2" fill="#b2aeab" stroke="#000" stroke-width="3.5"/>
<circle cx="202.5" cy="241.5" r="8.2" fill="#b2aeab" stroke="#000" stroke-width="3.5"/>
<circle cx="241.6" cy="241.5" r="8.2" fill="#b2aeab" stroke="#000" stroke-width="3.5"/>
<circle cx="282.6" cy="241.5" r="8.2" fill="#b2aeab" stroke="#000" stroke-width="3.5"/>
<circle cx="326.7" cy="241.5" r="8.2" fill="#b2aeab" stroke="#000" stroke-width="3.5"/>
<circle cx="323.0" cy="241.5" r="8.2" fill="#b2aeab" stroke="#000" stroke-width="3.5"/>
<circle cx="316.4" cy="241.5" r="8.2" fill="#b2aeab" stroke="#000" stroke-width="3.5"/>
<circle cx="319.6" cy="241.5" r="8.2" fill="#b2aeab" stroke="#000" stroke-width="3.5"/>
<circle cx="351.2" cy="241.5" r="8.2" fill="#b2aeab" stroke="#000" stroke-width="3.5"/>
<circle cx="352.8" cy="241.5" r="8.2" fill="#b2aeab" stroke="#000" stroke-width="3.5"/>
<circle cx="356.3" cy="241.5" r="8.2" fill="#b2aeab" stroke="#000" stroke-width="3.5"/>
<circle cx="373.1" cy="241.5" r="8.2" fill="#b2aeab" stroke="#000" stroke-width="3.5"/>
<circle cx="392.8" cy="241.5" r="8.2" fill="#b2aeab" stroke="#000" stroke-width="3.5"/>
<circle cx="416.4" cy="241.5" r="8.2" fill="#b2aeab" stroke="#000" stroke-width="3.5"/>
<circle cx="426.9" cy="241.5" r="8.2" fill="#b2aeab" stroke="#000" stroke-width="3.5"/>
<circle cx="444.1" cy="241.5" r="8.2" fill="#b2aeab" stroke="#000" stroke-width="3.5"/>
<circle cx="437.3" cy="241.5" r="8.2" fill="#b2aeab" stroke="#000" stroke-width="3.5"/>
<circle cx="460.6" cy="241.5" r="8.2" fill="#b2aeab" stroke="#000" stroke-width="3.5"/>
<circle cx="484.1" cy="241.5" r="8.2" fill="#b2aeab" stroke="#000" stroke-width="3.5"/>
<circle cx="493.6" cy="241.5" r="8.2" fill="#b2aeab" stroke="#000" stroke-width="3.5"/>
<circle cx="490.3" cy="241.5" r="8.2" fill="#b2aeab" stroke="#000" stroke-width="3.5"/>
<circle cx="533.6" cy="241.5" r="8.2" fill="#b2aeab" stroke="#000" stroke-width="3.5"/>
<circle cx="550.7" cy="241.5" r="8.2" fill="#b2aeab" stroke="#000" stroke-width="3.5"/>
<circle cx="542.6" cy="241.5" r="8.2" fill="#b2aeab" stroke="#000" stroke-width="3.5"/>
<circle cx="565.2" cy="241.5" r="8.2" fill="#b2aeab" stroke="#000" stroke-width="3.5"/>
<circle cx="558.7" cy="241.5" r="8.2" fill="#b2aeab" stroke="#000" stroke-width="3.5"/>
<circle cx="580.7" cy="241.5" r="8.2" fill="#b2aeab" stroke="#000" stroke-width="3.5"/>
<circle cx="679.0" cy="241.5" r="8.2" fill="#b2aeab" stroke="#000" stroke-width="3.5"/>
<circle cx="674.8" cy="241.5" r="8.2" fill="#b2aeab" stroke="#000" stroke-width="3.5"/>
<circle cx="87.6" cy="474.6" r="8.2" fill="#fff" stroke="#000" stroke-width="3.5"/>
<circle cx="145.6" cy="474.6" r="8.2" fill="#fff" stroke="#000" stroke-width="3.5"/>
<circle cx="170.2" cy="474.6" r="8.2" fill="#fff" stroke="#000" stroke-width="3.5"/>
<circle cx="155.9" cy="474.6" r="8.2" fill="#fff" stroke="#000" stroke-width="3.5"/>
<circle cx="182.9" cy="474.6" r="8.2" fill="#fff" stroke="#000" stroke-width="3.5"/>
<circle cx="205.0" cy="474.6" r="8.2" fill="#fff" stroke="#000" stroke-width="3.5"/>
<circle cx="209.0" cy="474.6" r="8.2" fill="#fff" stroke="#000" stroke-width="3.5"/>
<circle cx="218.0" cy="474.6" r="8.2" fill="#fff" stroke="#000" stroke-width="3.5"/>
<circle cx="201.0" cy="474.6" r="8.2" fill="#fff" stroke="#000" stroke-width="3.5"/>
<circle cx="214.5" cy="474.6" r="8.2" fill="#fff" stroke="#000" stroke-width="3.5"/>
<circle cx="252.0" cy="474.6" r="8.2" fill="#fff" stroke="#000" stroke-width="3.5"/>
<circle cx="239.6" cy="474.6" r="8.2" fill="#fff" stroke="#000" stroke-width="3.5"/>
<circle cx="264.6" cy="474.6" r="8.2" fill="#fff" stroke="#000" stroke-width="3.5"/>
<circle cx="283.4" cy="474.6" r="8.2" fill="#fff" stroke="#000" stroke-width="3.5"/>
<circle cx="288.9" cy="474.6" r="8.2" fill="#fff" stroke="#000" stroke-width="3.5"/>
<circle cx="328.5" cy="474.6" r="8.2" fill="#fff" stroke="#000" stroke-width="3.5"/>
<circle cx="342.4" cy="474.6" r="8.2" fill="#fff" stroke="#000" stroke-width="3.5"/>
<circle cx="358.1" cy="474.6" r="8.2" fill="#fff" stroke="#000" stroke-width="3.5"/>
<circle cx="387.3" cy="474.6" r="8.2" fill="#fff" stroke="#000" stroke-width="3.5"/>
<circle cx="380.1" cy="474.6" r="8.2" fill="#fff" stroke="#000" stroke-width="3.5"/>
<circle cx="372.2" cy="474.6" r="8.2" fill="#fff" stroke="#000" stroke-width="3.5"/>
<circle cx="405.2" cy="474.6" r="8.2" fill="#fff" stroke="#000" stroke-width="3.5"/>
<circle cx="412.8" cy="474.6" r="8.2" fill="#fff" stroke="#000" stroke-width="3.5"/>
<circle cx="428.6" cy="474.6" r="8.2" fill="#fff" stroke="#000" stroke-width="3.5"/>
<circle cx="441.8" cy="474.6" r="8.2" fill="#fff" stroke="#000" stroke-width="3.5"/>
<circle cx="460.6" cy="474.6" r="8.2" fill="#fff" stroke="#000" stroke-width="3.5"/>
<circle cx="489.8" cy="474.6" r="8.2" fill="#fff" stroke="#000" stroke-width="3.5"/>
<circle cx="493.5" cy="474.6" r="8.2" fill="#fff" stroke="#000" stroke-width="3.5"/>
<circle cx="500.1" cy="474.6" r="8.2" fill="#fff" stroke="#000" stroke-width="3.5"/>
<circle cx="552.5" cy="474.6" r="8.2" fill="#fff" stroke="#000" stroke-width="3.5"/>
<circle cx="821.6" cy="241.5" r="8.2" fill="#b2aeab" stroke="#000" stroke-width="3.5"/>
<circle cx="822.4" cy="241.5" r="8.2" fill="#b2aeab" stroke="#000" stroke-width="3.5"/>
<circle cx="841.7" cy="241.5" r="8.2" fill="#b2aeab" stroke="#000" stroke-width="3.5"/>
<circle cx="911.1" cy="241.5" r="8.2" fill="#b2aeab" stroke="#000" stroke-width="3.5"/>
<circle cx="939.8" cy="241.5" r="8.2" fill="#b2aeab" stroke="#000" stroke-width="3.5"/>
<circle cx="931.8" cy="241.5" r="8.2" fill="#b2aeab" stroke="#000" stroke-width="3.5"/>
<circle cx="956.1" cy="241.5" r="8.2" fill="#b2aeab" stroke="#000" stroke-width="3.5"/>
<circle cx="996.9" cy="241.5" r="8.2" fill="#b2aeab" stroke="#000" stroke-width="3.5"/>
<circle cx="995.5" cy="241.5" r="8.2" fill="#b2aeab" stroke="#000" stroke-width="3.5"/>
<circle cx="1018.8" cy="241.5" r="8.2" fill="#b2aeab" stroke="#000" stroke-width="3.5"/>
<circle cx="1031.4" cy="241.5" r="8.2" fill="#b2aeab" stroke="#000" stroke-width="3.5"/>
<circle cx="1030.0" cy="241.5" r="8.2" fill="#b2aeab" stroke="#000" stroke-width="3.5"/>
<circle cx="1063.3" cy="241.5" r="8.2" fill="#b2aeab" stroke="#000" stroke-width="3.5"/>
<circle cx="1095.1" cy="241.5" r="8.2" fill="#b2aeab" stroke="#000" stroke-width="3.5"/>
<circle cx="1104.5" cy="241.5" r="8.2" fill="#b2aeab" stroke="#000" stroke-width="3.5"/>
<circle cx="1100.2" cy="241.5" r="8.2" fill="#b2aeab" stroke="#000" stroke-width="3.5"/>
<circle cx="1126.3" cy="241.5" r="8.2" fill="#b2aeab" stroke="#000" stroke-width="3.5"/>
<circle cx="1129.2" cy="241.5" r="8.2" fill="#b2aeab" stroke="#000" stroke-width="3.5"/>
<circle cx="1151.2" cy="241.5" r="8.2" fill="#b2aeab" stroke="#000" stroke-width="3.5"/>
<circle cx="1191.9" cy="241.5" r="8.2" fill="#b2aeab" stroke="#000" stroke-width="3.5"/>
<circle cx="1179.1" cy="241.5" r="8.2" fill="#b2aeab" stroke="#000" stroke-width="3.5"/>
<circle cx="1243.6" cy="241.5" r="8.2" fill="#b2aeab" stroke="#000" stroke-width="3.5"/>
<circle cx="1247.6" cy="241.5" r="8.2" fill="#b2aeab" stroke="#000" stroke-width="3.5"/>
<circle cx="1279.2" cy="241.5" r="8.2" fill="#b2aeab" stroke="#000" stroke-width="3.5"/>
<circle cx="1299.4" cy="241.5" r="8.2" fill="#b2aeab" stroke="#000" stroke-width="3.5"/>
<circle cx="1319.6" cy="241.5" r="8.2" fill="#b2aeab" stroke="#000" stroke-width="3.5"/>
<circle cx="1343.2" cy="241.5" r="8.2" fill="#b2aeab" stroke="#000" stroke-width="3.5"/>
<circle cx="1359.9" cy="241.5" r="8.2" fill="#b2aeab" stroke="#000" stroke-width="3.5"/>
<circle cx="887.5" cy="474.6" r="8.2" fill="#fff" stroke="#000" stroke-width="3.5"/>
<circle cx="925.8" cy="474.6" r="8.2" fill="#fff" stroke="#000" stroke-width="3.5"/>
<circle cx="946.5" cy="474.6" r="8.2" fill="#fff" stroke="#000" stroke-width="3.5"/>
<circle cx="944.9" cy="474.6" r="8.2" fill="#fff" stroke="#000" stroke-width="3.5"/>
<circle cx="973.6" cy="474.6" r="8.2" fill="#fff" stroke="#000" stroke-width="3.5"/>
<circle cx="986.3" cy="474.6" r="8.2" fill="#fff" stroke="#000" stroke-width="3.5"/>
<circle cx="992.7" cy="474.6" r="8.2" fill="#fff" stroke="#000" stroke-width="3.5"/>
<circle cx="1003.8" cy="474.6" r="8.2" fill="#fff" stroke="#000" stroke-width="3.5"/>
<circle cx="1019.0" cy="474.6" r="8.2" fill="#fff" stroke="#000" stroke-width="3.5"/>
<circle cx="1026.1" cy="474.6" r="8.2" fill="#fff" stroke="#000" stroke-width="3.5"/>
<circle cx="1036.5" cy="474.6" r="8.2" fill="#fff" stroke="#000" stroke-width="3.5"/>
<circle cx="1064.0" cy="474.6" r="8.2" fill="#fff" stroke="#000" stroke-width="3.5"/>
<circle cx="1076.5" cy="474.6" r="8.2" fill="#fff" stroke="#000" stroke-width="3.5"/>
<circle cx="1087.1" cy="474.6" r="8.2" fill="#fff" stroke="#000" stroke-width="3.5"/>
<circle cx="1091.9" cy="474.6" r="8.2" fill="#fff" stroke="#000" stroke-width="3.5"/>
<circle cx="1102.2" cy="474.6" r="8.2" fill="#fff" stroke="#000" stroke-width="3.5"/>
<circle cx="1112.6" cy="474.6" r="8.2" fill="#fff" stroke="#000" stroke-width="3.5"/>
<circle cx="1126.9" cy="474.6" r="8.2" fill="#fff" stroke="#000" stroke-width="3.5"/>
<circle cx="1157.2" cy="474.6" r="8.2" fill="#fff" stroke="#000" stroke-width="3.5"/>
<circle cx="1173.7" cy="474.6" r="8.2" fill="#fff" stroke="#000" stroke-width="3.5"/>
<circle cx="1201.2" cy="474.6" r="8.2" fill="#fff" stroke="#000" stroke-width="3.5"/>
<circle cx="1204.2" cy="474.6" r="8.2" fill="#fff" stroke="#000" stroke-width="3.5"/>
<circle cx="1209.8" cy="474.6" r="8.2" fill="#fff" stroke="#000" stroke-width="3.5"/>
<circle cx="1211.0" cy="474.6" r="8.2" fill="#fff" stroke="#000" stroke-width="3.5"/>
<circle cx="1220.7" cy="474.6" r="8.2" fill="#fff" stroke="#000" stroke-width="3.5"/>
<circle cx="1248.2" cy="474.6" r="8.2" fill="#fff" stroke="#000" stroke-width="3.5"/>
<circle cx="1253.4" cy="474.6" r="8.2" fill="#fff" stroke="#000" stroke-width="3.5"/>
<circle cx="1295.4" cy="474.6" r="8.2" fill="#fff" stroke="#000" stroke-width="3.5"/>
<circle cx="1293.8" cy="474.6" r="8.2" fill="#fff" stroke="#000" stroke-width="3.5"/>
<circle cx="1341.6" cy="474.6" r="8.2" fill="#fff" stroke="#000" stroke-width="3.5"/>
<circle cx="1343.0" cy="474.6" r="8.2" fill="#fff" stroke="#000" stroke-width="3.5"/>
<circle cx="1360.0" cy="474.6" r="8.2" fill="#fff" stroke="#000" stroke-width="3.5"/>
<!-- legend -->
<circle cx="166.6" cy="711.9" r="9.4" fill="#fff" stroke="#000" stroke-width="2.9"/>
<circle cx="199.5" cy="713.8" r="9.3" fill="#b2aeab" stroke="#000" stroke-width="3.6"/>
<text x="229" y="724.8" font-family="Liberation Sans, sans-serif" font-size="37.5" fill="#000">participant</text>
<rect x="465.2" y="697.5" width="29.3" height="28.9" fill="#ccdef2" stroke="#2e2a29" stroke-width="4.6" stroke-linejoin="round"/>
<text x="504" y="724.8" font-family="Liberation Sans, sans-serif" font-size="37.5" fill="#000">density</text>
<text x="776" y="724.8" font-family="Liberation Sans, sans-serif" font-size="37.5" fill="#000">steeper discounters</text>
<line x1="1115" y1="712.3" x2="1203" y2="712.3" stroke="#2e2a29" stroke-width="4.7"/>
<path d="M1201.3,701.7 L1220,712.2 L1201.3,722.6 Z" fill="#2e2a29"/>
</svg>
</body></html>
